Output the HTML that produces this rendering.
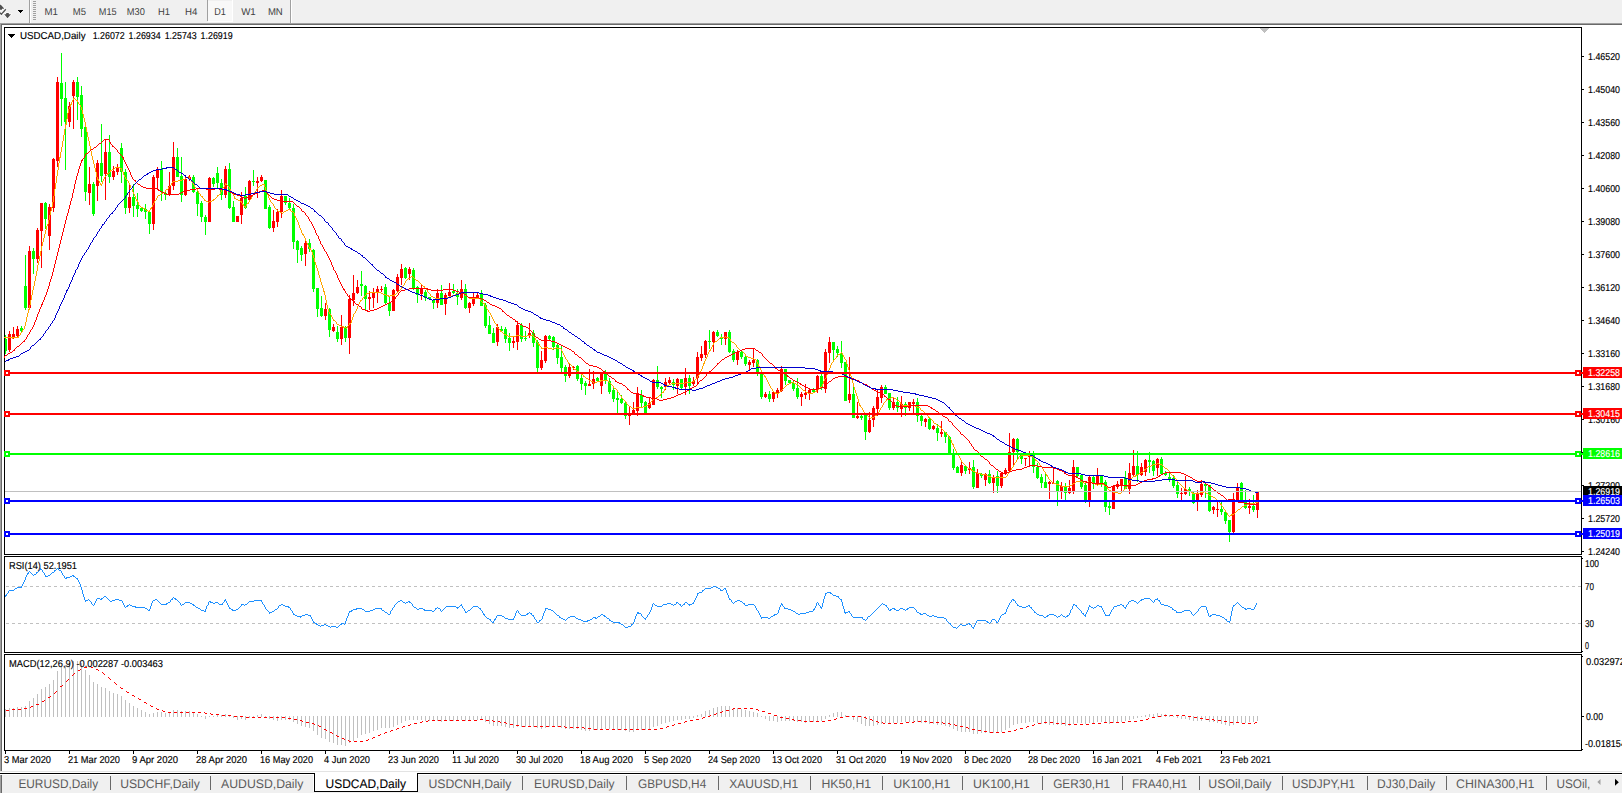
<!DOCTYPE html>
<html><head><meta charset="utf-8"><title>USDCAD,Daily</title>
<style>html,body{margin:0;padding:0;background:#fff;overflow:hidden}svg{display:block}text{font-family:"Liberation Sans",sans-serif;white-space:pre}</style>
</head><body>
<svg width="1622" height="794" viewBox="0 0 1622 794" shape-rendering="crispEdges" text-rendering="geometricPrecision">
<rect x="0" y="0" width="1622" height="794" fill="#ffffff"/>
<rect x="0" y="0" width="1622" height="23" fill="#f0f0f0"/>
<rect x="0" y="23" width="1622" height="1" fill="#a0a0a0"/>
<rect x="0" y="24" width="1622" height="1" fill="#696969"/>
<rect x="0" y="23" width="1" height="749" fill="#a0a0a0"/>
<rect x="1" y="24" width="1" height="748" fill="#696969"/>
<g shape-rendering="geometricPrecision">
<path d="M0 4.8 L0.8 4.8 L4 8.2 L4 8.8 L2 8.8 L2 9.8 L0 9.8 Z" fill="#505050" stroke="#ffffff" stroke-opacity="0.7" stroke-width="1.6" paint-order="stroke"/>
<path d="M5.8 9.3 L1.4 14.3 L0 12.8" fill="none" stroke="#ffffff" stroke-opacity="0.7" stroke-width="3"/>
<path d="M5.8 9.3 L1.4 14.3 L0 12.8" fill="none" stroke="#505050" stroke-width="1.3"/>
<path d="M6.2 13 L8.8 13 L8.8 14.2 L11 14.2 L7.5 18.2 L4.2 14.2 L6.2 14.2 Z" fill="#505050" stroke="#ffffff" stroke-opacity="0.7" stroke-width="1.6" paint-order="stroke"/>
</g>
<rect x="18" y="10" width="5" height="1" fill="#000"/>
<rect x="19" y="11" width="3" height="1" fill="#000"/>
<rect x="20" y="12" width="1" height="1" fill="#000"/>
<rect x="29" y="0" width="1" height="23" fill="#a0a0a0"/>
<rect x="30" y="0" width="1" height="23" fill="#ffffff"/>
<rect x="33" y="1" width="3" height="1" fill="#a0a0a0"/>
<rect x="33" y="3" width="3" height="1" fill="#a0a0a0"/>
<rect x="33" y="5" width="3" height="1" fill="#a0a0a0"/>
<rect x="33" y="7" width="3" height="1" fill="#a0a0a0"/>
<rect x="33" y="9" width="3" height="1" fill="#a0a0a0"/>
<rect x="33" y="11" width="3" height="1" fill="#a0a0a0"/>
<rect x="33" y="13" width="3" height="1" fill="#a0a0a0"/>
<rect x="33" y="15" width="3" height="1" fill="#a0a0a0"/>
<rect x="33" y="17" width="3" height="1" fill="#a0a0a0"/>
<rect x="33" y="19" width="3" height="1" fill="#a0a0a0"/>
<rect x="207" y="0" width="1" height="21" fill="#a0a0a0"/>
<rect x="208" y="1" width="24" height="20" fill="#f8f8f8"/>
<rect x="208" y="21" width="25" height="1" fill="#ffffff"/>
<rect x="232" y="0" width="1" height="22" fill="#ffffff"/>
<rect x="290" y="0" width="1" height="23" fill="#a0a0a0"/>
<rect x="291" y="0" width="1" height="23" fill="#ffffff"/>
<text x="44.6" y="15" font-size="10" fill="#404040" stroke="#404040" stroke-width="0" textLength="13.4" lengthAdjust="spacingAndGlyphs">M1</text>
<text x="72.8" y="15" font-size="10" fill="#404040" stroke="#404040" stroke-width="0" textLength="13.2" lengthAdjust="spacingAndGlyphs">M5</text>
<text x="98.8" y="15" font-size="10" fill="#404040" stroke="#404040" stroke-width="0" textLength="17.8" lengthAdjust="spacingAndGlyphs">M15</text>
<text x="126.8" y="15" font-size="10" fill="#404040" stroke="#404040" stroke-width="0" textLength="18.0" lengthAdjust="spacingAndGlyphs">M30</text>
<text x="158.0" y="15" font-size="10" fill="#404040" stroke="#404040" stroke-width="0" textLength="12.0" lengthAdjust="spacingAndGlyphs">H1</text>
<text x="185.0" y="15" font-size="10" fill="#404040" stroke="#404040" stroke-width="0" textLength="12.4" lengthAdjust="spacingAndGlyphs">H4</text>
<text x="214.2" y="15" font-size="10" fill="#404040" stroke="#404040" stroke-width="0" textLength="11.6" lengthAdjust="spacingAndGlyphs">D1</text>
<text x="241.2" y="15" font-size="10" fill="#404040" stroke="#404040" stroke-width="0" textLength="14.6" lengthAdjust="spacingAndGlyphs">W1</text>
<text x="267.9" y="15" font-size="10" fill="#404040" stroke="#404040" stroke-width="0" textLength="14.9" lengthAdjust="spacingAndGlyphs">MN</text>
<rect x="4" y="27" width="1" height="528" fill="#000000"/>
<rect x="4" y="556" width="1" height="97" fill="#000000"/>
<rect x="4" y="654" width="1" height="97" fill="#000000"/>
<rect x="1581" y="27" width="1" height="528" fill="#000000"/>
<rect x="1581" y="556" width="1" height="97" fill="#000000"/>
<rect x="1581" y="654" width="1" height="97" fill="#000000"/>
<rect x="4" y="27" width="1578" height="1" fill="#000000"/>
<rect x="4" y="554" width="1578" height="1" fill="#000000"/>
<rect x="4" y="556" width="1578" height="1" fill="#000000"/>
<rect x="4" y="652" width="1578" height="1" fill="#000000"/>
<rect x="4" y="654" width="1578" height="1" fill="#000000"/>
<rect x="4" y="750" width="1578" height="1" fill="#000000"/>
<rect x="1260" y="28" width="9" height="1" fill="#c0c0c0"/>
<rect x="1261" y="29" width="7" height="1" fill="#c0c0c0"/>
<rect x="1262" y="30" width="5" height="1" fill="#c0c0c0"/>
<rect x="1263" y="31" width="3" height="1" fill="#c0c0c0"/>
<rect x="1264" y="32" width="1" height="1" fill="#c0c0c0"/>
<rect x="8" y="34" width="7" height="1" fill="#000000"/>
<rect x="9" y="35" width="5" height="1" fill="#000000"/>
<rect x="10" y="36" width="3" height="1" fill="#000000"/>
<rect x="11" y="37" width="1" height="1" fill="#000000"/>
<text x="20" y="39" font-size="10" fill="#000000" stroke="#000000" stroke-width="0.15" textLength="65.5" lengthAdjust="spacingAndGlyphs">USDCAD,Daily</text>
<text x="92.7" y="39" font-size="10" fill="#000000" stroke="#000000" stroke-width="0.15" textLength="32" lengthAdjust="spacingAndGlyphs">1.26072</text>
<text x="128.6" y="39" font-size="10" fill="#000000" stroke="#000000" stroke-width="0.15" textLength="32" lengthAdjust="spacingAndGlyphs">1.26934</text>
<text x="164.7" y="39" font-size="10" fill="#000000" stroke="#000000" stroke-width="0.15" textLength="32" lengthAdjust="spacingAndGlyphs">1.25743</text>
<text x="200.6" y="39" font-size="10" fill="#000000" stroke="#000000" stroke-width="0.15" textLength="32" lengthAdjust="spacingAndGlyphs">1.26919</text>
<rect x="1582" y="56" width="2" height="1" fill="#000000"/>
<text x="1588" y="60" font-size="10" fill="#000000" stroke="#000000" stroke-width="0.15" textLength="32" lengthAdjust="spacingAndGlyphs">1.46520</text>
<rect x="1582" y="89" width="2" height="1" fill="#000000"/>
<text x="1588" y="93" font-size="10" fill="#000000" stroke="#000000" stroke-width="0.15" textLength="32" lengthAdjust="spacingAndGlyphs">1.45040</text>
<rect x="1582" y="122" width="2" height="1" fill="#000000"/>
<text x="1588" y="126" font-size="10" fill="#000000" stroke="#000000" stroke-width="0.15" textLength="32" lengthAdjust="spacingAndGlyphs">1.43560</text>
<rect x="1582" y="155" width="2" height="1" fill="#000000"/>
<text x="1588" y="159" font-size="10" fill="#000000" stroke="#000000" stroke-width="0.15" textLength="32" lengthAdjust="spacingAndGlyphs">1.42080</text>
<rect x="1582" y="188" width="2" height="1" fill="#000000"/>
<text x="1588" y="192" font-size="10" fill="#000000" stroke="#000000" stroke-width="0.15" textLength="32" lengthAdjust="spacingAndGlyphs">1.40600</text>
<rect x="1582" y="221" width="2" height="1" fill="#000000"/>
<text x="1588" y="225" font-size="10" fill="#000000" stroke="#000000" stroke-width="0.15" textLength="32" lengthAdjust="spacingAndGlyphs">1.39080</text>
<rect x="1582" y="254" width="2" height="1" fill="#000000"/>
<text x="1588" y="258" font-size="10" fill="#000000" stroke="#000000" stroke-width="0.15" textLength="32" lengthAdjust="spacingAndGlyphs">1.37600</text>
<rect x="1582" y="287" width="2" height="1" fill="#000000"/>
<text x="1588" y="291" font-size="10" fill="#000000" stroke="#000000" stroke-width="0.15" textLength="32" lengthAdjust="spacingAndGlyphs">1.36120</text>
<rect x="1582" y="320" width="2" height="1" fill="#000000"/>
<text x="1588" y="324" font-size="10" fill="#000000" stroke="#000000" stroke-width="0.15" textLength="32" lengthAdjust="spacingAndGlyphs">1.34640</text>
<rect x="1582" y="353" width="2" height="1" fill="#000000"/>
<text x="1588" y="357" font-size="10" fill="#000000" stroke="#000000" stroke-width="0.15" textLength="32" lengthAdjust="spacingAndGlyphs">1.33160</text>
<rect x="1582" y="386" width="2" height="1" fill="#000000"/>
<text x="1588" y="390" font-size="10" fill="#000000" stroke="#000000" stroke-width="0.15" textLength="32" lengthAdjust="spacingAndGlyphs">1.31680</text>
<rect x="1582" y="419" width="2" height="1" fill="#000000"/>
<text x="1588" y="423" font-size="10" fill="#000000" stroke="#000000" stroke-width="0.15" textLength="32" lengthAdjust="spacingAndGlyphs">1.30160</text>
<rect x="1582" y="452" width="2" height="1" fill="#000000"/>
<text x="1588" y="456" font-size="10" fill="#000000" stroke="#000000" stroke-width="0.15" textLength="32" lengthAdjust="spacingAndGlyphs">1.28680</text>
<rect x="1582" y="485" width="2" height="1" fill="#000000"/>
<text x="1588" y="489" font-size="10" fill="#000000" stroke="#000000" stroke-width="0.15" textLength="32" lengthAdjust="spacingAndGlyphs">1.27200</text>
<rect x="1582" y="518" width="2" height="1" fill="#000000"/>
<text x="1588" y="522" font-size="10" fill="#000000" stroke="#000000" stroke-width="0.15" textLength="32" lengthAdjust="spacingAndGlyphs">1.25720</text>
<rect x="1582" y="551" width="2" height="1" fill="#000000"/>
<text x="1588" y="555" font-size="10" fill="#000000" stroke="#000000" stroke-width="0.15" textLength="32" lengthAdjust="spacingAndGlyphs">1.24240</text>
<g id="candles">
<rect x="5" y="335" width="1" height="19" fill="#00ff00"/>
<rect x="5" y="339" width="2" height="12" fill="#00ff00"/>
<rect x="9" y="331" width="1" height="21" fill="#ff0000"/>
<rect x="8" y="334" width="3" height="16" fill="#ff0000"/>
<rect x="13" y="327" width="1" height="12" fill="#ff0000"/>
<rect x="12" y="334" width="3" height="3" fill="#ff0000"/>
<rect x="17" y="326" width="1" height="12" fill="#ff0000"/>
<rect x="16" y="329" width="3" height="7" fill="#ff0000"/>
<rect x="21" y="326" width="1" height="7" fill="#00ff00"/>
<rect x="20" y="328" width="3" height="3" fill="#00ff00"/>
<rect x="25" y="255" width="1" height="55" fill="#00ff00"/>
<rect x="24" y="286" width="3" height="22" fill="#00ff00"/>
<rect x="29" y="246" width="1" height="63" fill="#ff0000"/>
<rect x="28" y="251" width="3" height="57" fill="#ff0000"/>
<rect x="33" y="248" width="1" height="26" fill="#00ff00"/>
<rect x="32" y="251" width="3" height="8" fill="#00ff00"/>
<rect x="37" y="228" width="1" height="35" fill="#ff0000"/>
<rect x="36" y="230" width="3" height="29" fill="#ff0000"/>
<rect x="41" y="203" width="1" height="65" fill="#ff0000"/>
<rect x="40" y="203" width="3" height="28" fill="#ff0000"/>
<rect x="45" y="202" width="1" height="27" fill="#00ff00"/>
<rect x="44" y="203" width="3" height="16" fill="#00ff00"/>
<rect x="49" y="204" width="1" height="46" fill="#ff0000"/>
<rect x="48" y="207" width="3" height="29" fill="#ff0000"/>
<rect x="53" y="158" width="1" height="54" fill="#ff0000"/>
<rect x="52" y="159" width="3" height="49" fill="#ff0000"/>
<rect x="57" y="77" width="1" height="90" fill="#ff0000"/>
<rect x="56" y="82" width="3" height="79" fill="#ff0000"/>
<rect x="61" y="53" width="1" height="73" fill="#00ff00"/>
<rect x="60" y="83" width="3" height="16" fill="#00ff00"/>
<rect x="65" y="82" width="1" height="88" fill="#00ff00"/>
<rect x="64" y="98" width="3" height="24" fill="#00ff00"/>
<rect x="69" y="102" width="1" height="25" fill="#ff0000"/>
<rect x="68" y="106" width="3" height="16" fill="#ff0000"/>
<rect x="73" y="80" width="1" height="49" fill="#ff0000"/>
<rect x="72" y="82" width="3" height="14" fill="#ff0000"/>
<rect x="77" y="77" width="1" height="43" fill="#00ff00"/>
<rect x="76" y="82" width="3" height="15" fill="#00ff00"/>
<rect x="81" y="86" width="1" height="51" fill="#00ff00"/>
<rect x="80" y="95" width="3" height="34" fill="#00ff00"/>
<rect x="85" y="127" width="1" height="74" fill="#00ff00"/>
<rect x="84" y="127" width="3" height="65" fill="#00ff00"/>
<rect x="89" y="167" width="1" height="38" fill="#ff0000"/>
<rect x="88" y="184" width="3" height="9" fill="#ff0000"/>
<rect x="93" y="182" width="1" height="34" fill="#00ff00"/>
<rect x="92" y="184" width="3" height="30" fill="#00ff00"/>
<rect x="97" y="160" width="1" height="41" fill="#ff0000"/>
<rect x="96" y="163" width="3" height="23" fill="#ff0000"/>
<rect x="101" y="124" width="1" height="58" fill="#00ff00"/>
<rect x="100" y="163" width="3" height="13" fill="#00ff00"/>
<rect x="105" y="140" width="1" height="60" fill="#ff0000"/>
<rect x="104" y="152" width="3" height="22" fill="#ff0000"/>
<rect x="109" y="135" width="1" height="48" fill="#00ff00"/>
<rect x="108" y="152" width="3" height="25" fill="#00ff00"/>
<rect x="113" y="166" width="1" height="14" fill="#ff0000"/>
<rect x="112" y="171" width="3" height="6" fill="#ff0000"/>
<rect x="117" y="164" width="1" height="11" fill="#ff0000"/>
<rect x="116" y="167" width="3" height="5" fill="#ff0000"/>
<rect x="121" y="143" width="1" height="40" fill="#00ff00"/>
<rect x="120" y="148" width="3" height="24" fill="#00ff00"/>
<rect x="125" y="169" width="1" height="45" fill="#00ff00"/>
<rect x="124" y="172" width="3" height="36" fill="#00ff00"/>
<rect x="129" y="183" width="1" height="30" fill="#ff0000"/>
<rect x="128" y="197" width="3" height="11" fill="#ff0000"/>
<rect x="133" y="184" width="1" height="33" fill="#00ff00"/>
<rect x="132" y="197" width="3" height="9" fill="#00ff00"/>
<rect x="137" y="193" width="1" height="24" fill="#00ff00"/>
<rect x="136" y="205" width="3" height="4" fill="#00ff00"/>
<rect x="141" y="207" width="1" height="5" fill="#00ff00"/>
<rect x="140" y="208" width="3" height="3" fill="#00ff00"/>
<rect x="145" y="204" width="1" height="15" fill="#00ff00"/>
<rect x="144" y="209" width="3" height="3" fill="#00ff00"/>
<rect x="149" y="211" width="1" height="23" fill="#00ff00"/>
<rect x="148" y="212" width="3" height="12" fill="#00ff00"/>
<rect x="153" y="175" width="1" height="55" fill="#ff0000"/>
<rect x="152" y="177" width="3" height="47" fill="#ff0000"/>
<rect x="157" y="167" width="1" height="22" fill="#ff0000"/>
<rect x="156" y="170" width="3" height="8" fill="#ff0000"/>
<rect x="161" y="161" width="1" height="40" fill="#00ff00"/>
<rect x="160" y="169" width="3" height="23" fill="#00ff00"/>
<rect x="165" y="192" width="1" height="8" fill="#00ff00"/>
<rect x="164" y="193" width="3" height="2" fill="#00ff00"/>
<rect x="169" y="172" width="1" height="24" fill="#ff0000"/>
<rect x="168" y="186" width="3" height="9" fill="#ff0000"/>
<rect x="173" y="142" width="1" height="48" fill="#ff0000"/>
<rect x="172" y="157" width="3" height="29" fill="#ff0000"/>
<rect x="177" y="148" width="1" height="29" fill="#00ff00"/>
<rect x="176" y="157" width="3" height="20" fill="#00ff00"/>
<rect x="181" y="157" width="1" height="45" fill="#00ff00"/>
<rect x="180" y="176" width="3" height="19" fill="#00ff00"/>
<rect x="185" y="177" width="1" height="19" fill="#ff0000"/>
<rect x="184" y="179" width="3" height="16" fill="#ff0000"/>
<rect x="189" y="175" width="1" height="6" fill="#ff0000"/>
<rect x="188" y="177" width="3" height="2" fill="#ff0000"/>
<rect x="193" y="175" width="1" height="18" fill="#00ff00"/>
<rect x="192" y="177" width="3" height="15" fill="#00ff00"/>
<rect x="197" y="191" width="1" height="25" fill="#00ff00"/>
<rect x="196" y="192" width="3" height="12" fill="#00ff00"/>
<rect x="201" y="201" width="1" height="21" fill="#00ff00"/>
<rect x="200" y="203" width="3" height="14" fill="#00ff00"/>
<rect x="205" y="215" width="1" height="20" fill="#00ff00"/>
<rect x="204" y="217" width="3" height="5" fill="#00ff00"/>
<rect x="209" y="177" width="1" height="45" fill="#ff0000"/>
<rect x="208" y="178" width="3" height="44" fill="#ff0000"/>
<rect x="213" y="177" width="1" height="10" fill="#00ff00"/>
<rect x="212" y="178" width="3" height="6" fill="#00ff00"/>
<rect x="217" y="167" width="1" height="21" fill="#00ff00"/>
<rect x="216" y="173" width="3" height="10" fill="#00ff00"/>
<rect x="221" y="179" width="1" height="21" fill="#00ff00"/>
<rect x="220" y="183" width="3" height="12" fill="#00ff00"/>
<rect x="225" y="166" width="1" height="32" fill="#ff0000"/>
<rect x="224" y="169" width="3" height="26" fill="#ff0000"/>
<rect x="229" y="163" width="1" height="46" fill="#00ff00"/>
<rect x="228" y="169" width="3" height="39" fill="#00ff00"/>
<rect x="233" y="201" width="1" height="21" fill="#00ff00"/>
<rect x="232" y="207" width="3" height="15" fill="#00ff00"/>
<rect x="237" y="216" width="1" height="6" fill="#ff0000"/>
<rect x="236" y="216" width="3" height="6" fill="#ff0000"/>
<rect x="241" y="192" width="1" height="32" fill="#ff0000"/>
<rect x="240" y="198" width="3" height="17" fill="#ff0000"/>
<rect x="245" y="187" width="1" height="22" fill="#00ff00"/>
<rect x="244" y="196" width="3" height="12" fill="#00ff00"/>
<rect x="249" y="180" width="1" height="21" fill="#ff0000"/>
<rect x="248" y="181" width="3" height="19" fill="#ff0000"/>
<rect x="253" y="170" width="1" height="16" fill="#00ff00"/>
<rect x="252" y="181" width="3" height="1" fill="#00ff00"/>
<rect x="257" y="177" width="1" height="21" fill="#ff0000"/>
<rect x="256" y="181" width="3" height="2" fill="#ff0000"/>
<rect x="261" y="175" width="1" height="7" fill="#ff0000"/>
<rect x="260" y="177" width="3" height="4" fill="#ff0000"/>
<rect x="265" y="180" width="1" height="29" fill="#00ff00"/>
<rect x="264" y="180" width="3" height="29" fill="#00ff00"/>
<rect x="269" y="205" width="1" height="24" fill="#00ff00"/>
<rect x="268" y="207" width="3" height="21" fill="#00ff00"/>
<rect x="273" y="210" width="1" height="22" fill="#ff0000"/>
<rect x="272" y="221" width="3" height="7" fill="#ff0000"/>
<rect x="277" y="209" width="1" height="18" fill="#ff0000"/>
<rect x="276" y="212" width="3" height="10" fill="#ff0000"/>
<rect x="281" y="190" width="1" height="28" fill="#ff0000"/>
<rect x="280" y="196" width="3" height="16" fill="#ff0000"/>
<rect x="285" y="196" width="1" height="9" fill="#00ff00"/>
<rect x="284" y="196" width="3" height="7" fill="#00ff00"/>
<rect x="289" y="198" width="1" height="12" fill="#00ff00"/>
<rect x="288" y="203" width="3" height="5" fill="#00ff00"/>
<rect x="293" y="204" width="1" height="45" fill="#00ff00"/>
<rect x="292" y="208" width="3" height="34" fill="#00ff00"/>
<rect x="297" y="240" width="1" height="23" fill="#00ff00"/>
<rect x="296" y="241" width="3" height="9" fill="#00ff00"/>
<rect x="301" y="246" width="1" height="15" fill="#00ff00"/>
<rect x="300" y="248" width="3" height="7" fill="#00ff00"/>
<rect x="305" y="240" width="1" height="26" fill="#ff0000"/>
<rect x="304" y="243" width="3" height="11" fill="#ff0000"/>
<rect x="309" y="239" width="1" height="13" fill="#00ff00"/>
<rect x="308" y="243" width="3" height="6" fill="#00ff00"/>
<rect x="313" y="249" width="1" height="43" fill="#00ff00"/>
<rect x="312" y="250" width="3" height="39" fill="#00ff00"/>
<rect x="317" y="288" width="1" height="29" fill="#00ff00"/>
<rect x="316" y="288" width="3" height="21" fill="#00ff00"/>
<rect x="321" y="296" width="1" height="21" fill="#00ff00"/>
<rect x="320" y="308" width="3" height="8" fill="#00ff00"/>
<rect x="325" y="303" width="1" height="17" fill="#ff0000"/>
<rect x="324" y="309" width="3" height="7" fill="#ff0000"/>
<rect x="329" y="308" width="1" height="29" fill="#00ff00"/>
<rect x="328" y="309" width="3" height="21" fill="#00ff00"/>
<rect x="333" y="324" width="1" height="8" fill="#ff0000"/>
<rect x="332" y="327" width="3" height="4" fill="#ff0000"/>
<rect x="337" y="326" width="1" height="16" fill="#00ff00"/>
<rect x="336" y="332" width="3" height="7" fill="#00ff00"/>
<rect x="341" y="315" width="1" height="30" fill="#ff0000"/>
<rect x="340" y="327" width="3" height="12" fill="#ff0000"/>
<rect x="345" y="326" width="1" height="16" fill="#00ff00"/>
<rect x="344" y="327" width="3" height="11" fill="#00ff00"/>
<rect x="349" y="295" width="1" height="59" fill="#ff0000"/>
<rect x="348" y="299" width="3" height="39" fill="#ff0000"/>
<rect x="353" y="275" width="1" height="31" fill="#ff0000"/>
<rect x="352" y="293" width="3" height="7" fill="#ff0000"/>
<rect x="357" y="280" width="1" height="14" fill="#ff0000"/>
<rect x="356" y="287" width="3" height="6" fill="#ff0000"/>
<rect x="361" y="271" width="1" height="25" fill="#00ff00"/>
<rect x="360" y="284" width="3" height="2" fill="#00ff00"/>
<rect x="365" y="285" width="1" height="26" fill="#00ff00"/>
<rect x="364" y="286" width="3" height="13" fill="#00ff00"/>
<rect x="369" y="291" width="1" height="19" fill="#ff0000"/>
<rect x="368" y="297" width="3" height="2" fill="#ff0000"/>
<rect x="373" y="288" width="1" height="20" fill="#ff0000"/>
<rect x="372" y="292" width="3" height="6" fill="#ff0000"/>
<rect x="377" y="286" width="1" height="17" fill="#ff0000"/>
<rect x="376" y="289" width="3" height="3" fill="#ff0000"/>
<rect x="381" y="286" width="1" height="6" fill="#ff0000"/>
<rect x="380" y="289" width="3" height="1" fill="#ff0000"/>
<rect x="385" y="284" width="1" height="21" fill="#00ff00"/>
<rect x="384" y="287" width="3" height="16" fill="#00ff00"/>
<rect x="389" y="296" width="1" height="20" fill="#00ff00"/>
<rect x="388" y="303" width="3" height="8" fill="#00ff00"/>
<rect x="393" y="289" width="1" height="22" fill="#ff0000"/>
<rect x="392" y="290" width="3" height="21" fill="#ff0000"/>
<rect x="397" y="274" width="1" height="18" fill="#ff0000"/>
<rect x="396" y="277" width="3" height="14" fill="#ff0000"/>
<rect x="401" y="264" width="1" height="21" fill="#ff0000"/>
<rect x="400" y="269" width="3" height="9" fill="#ff0000"/>
<rect x="405" y="267" width="1" height="12" fill="#00ff00"/>
<rect x="404" y="268" width="3" height="10" fill="#00ff00"/>
<rect x="409" y="267" width="1" height="13" fill="#ff0000"/>
<rect x="408" y="269" width="3" height="5" fill="#ff0000"/>
<rect x="413" y="268" width="1" height="22" fill="#00ff00"/>
<rect x="412" y="270" width="3" height="19" fill="#00ff00"/>
<rect x="417" y="286" width="1" height="17" fill="#00ff00"/>
<rect x="416" y="287" width="3" height="8" fill="#00ff00"/>
<rect x="421" y="285" width="1" height="15" fill="#ff0000"/>
<rect x="420" y="289" width="3" height="5" fill="#ff0000"/>
<rect x="425" y="290" width="1" height="11" fill="#00ff00"/>
<rect x="424" y="292" width="3" height="6" fill="#00ff00"/>
<rect x="429" y="297" width="1" height="3" fill="#00ff00"/>
<rect x="428" y="297" width="3" height="2" fill="#00ff00"/>
<rect x="433" y="299" width="1" height="10" fill="#00ff00"/>
<rect x="432" y="300" width="3" height="3" fill="#00ff00"/>
<rect x="437" y="289" width="1" height="19" fill="#ff0000"/>
<rect x="436" y="293" width="3" height="10" fill="#ff0000"/>
<rect x="441" y="285" width="1" height="20" fill="#00ff00"/>
<rect x="440" y="293" width="3" height="12" fill="#00ff00"/>
<rect x="445" y="293" width="1" height="22" fill="#ff0000"/>
<rect x="444" y="295" width="3" height="9" fill="#ff0000"/>
<rect x="449" y="283" width="1" height="15" fill="#ff0000"/>
<rect x="448" y="292" width="3" height="4" fill="#ff0000"/>
<rect x="453" y="284" width="1" height="10" fill="#00ff00"/>
<rect x="452" y="291" width="3" height="2" fill="#00ff00"/>
<rect x="457" y="289" width="1" height="16" fill="#00ff00"/>
<rect x="456" y="293" width="3" height="4" fill="#00ff00"/>
<rect x="461" y="280" width="1" height="20" fill="#ff0000"/>
<rect x="460" y="289" width="3" height="9" fill="#ff0000"/>
<rect x="465" y="284" width="1" height="25" fill="#00ff00"/>
<rect x="464" y="289" width="3" height="19" fill="#00ff00"/>
<rect x="469" y="302" width="1" height="11" fill="#ff0000"/>
<rect x="468" y="303" width="3" height="5" fill="#ff0000"/>
<rect x="473" y="293" width="1" height="13" fill="#ff0000"/>
<rect x="472" y="297" width="3" height="7" fill="#ff0000"/>
<rect x="477" y="293" width="1" height="6" fill="#ff0000"/>
<rect x="476" y="295" width="3" height="3" fill="#ff0000"/>
<rect x="481" y="290" width="1" height="16" fill="#00ff00"/>
<rect x="480" y="294" width="3" height="12" fill="#00ff00"/>
<rect x="485" y="303" width="1" height="25" fill="#00ff00"/>
<rect x="484" y="305" width="3" height="21" fill="#00ff00"/>
<rect x="489" y="316" width="1" height="18" fill="#00ff00"/>
<rect x="488" y="325" width="3" height="9" fill="#00ff00"/>
<rect x="493" y="328" width="1" height="15" fill="#00ff00"/>
<rect x="492" y="333" width="3" height="10" fill="#00ff00"/>
<rect x="497" y="324" width="1" height="22" fill="#ff0000"/>
<rect x="496" y="327" width="3" height="15" fill="#ff0000"/>
<rect x="501" y="326" width="1" height="5" fill="#00ff00"/>
<rect x="500" y="329" width="3" height="2" fill="#00ff00"/>
<rect x="505" y="327" width="1" height="16" fill="#00ff00"/>
<rect x="504" y="329" width="3" height="10" fill="#00ff00"/>
<rect x="509" y="333" width="1" height="18" fill="#00ff00"/>
<rect x="508" y="338" width="3" height="5" fill="#00ff00"/>
<rect x="513" y="337" width="1" height="11" fill="#ff0000"/>
<rect x="512" y="341" width="3" height="2" fill="#ff0000"/>
<rect x="517" y="321" width="1" height="29" fill="#ff0000"/>
<rect x="516" y="325" width="3" height="17" fill="#ff0000"/>
<rect x="521" y="323" width="1" height="19" fill="#00ff00"/>
<rect x="520" y="325" width="3" height="14" fill="#00ff00"/>
<rect x="525" y="331" width="1" height="10" fill="#00ff00"/>
<rect x="524" y="338" width="3" height="1" fill="#00ff00"/>
<rect x="529" y="323" width="1" height="15" fill="#ff0000"/>
<rect x="528" y="333" width="3" height="3" fill="#ff0000"/>
<rect x="533" y="330" width="1" height="17" fill="#00ff00"/>
<rect x="532" y="333" width="3" height="10" fill="#00ff00"/>
<rect x="537" y="340" width="1" height="32" fill="#00ff00"/>
<rect x="536" y="342" width="3" height="26" fill="#00ff00"/>
<rect x="541" y="351" width="1" height="19" fill="#ff0000"/>
<rect x="540" y="360" width="3" height="8" fill="#ff0000"/>
<rect x="545" y="335" width="1" height="28" fill="#ff0000"/>
<rect x="544" y="336" width="3" height="25" fill="#ff0000"/>
<rect x="549" y="335" width="1" height="5" fill="#00ff00"/>
<rect x="548" y="336" width="3" height="3" fill="#00ff00"/>
<rect x="553" y="336" width="1" height="14" fill="#00ff00"/>
<rect x="552" y="337" width="3" height="10" fill="#00ff00"/>
<rect x="557" y="344" width="1" height="20" fill="#00ff00"/>
<rect x="556" y="345" width="3" height="13" fill="#00ff00"/>
<rect x="561" y="346" width="1" height="26" fill="#00ff00"/>
<rect x="560" y="357" width="3" height="11" fill="#00ff00"/>
<rect x="565" y="365" width="1" height="17" fill="#00ff00"/>
<rect x="564" y="367" width="3" height="9" fill="#00ff00"/>
<rect x="569" y="364" width="1" height="14" fill="#ff0000"/>
<rect x="568" y="367" width="3" height="9" fill="#ff0000"/>
<rect x="573" y="366" width="1" height="4" fill="#ff0000"/>
<rect x="572" y="367" width="3" height="1" fill="#ff0000"/>
<rect x="577" y="365" width="1" height="16" fill="#00ff00"/>
<rect x="576" y="366" width="3" height="13" fill="#00ff00"/>
<rect x="581" y="374" width="1" height="16" fill="#00ff00"/>
<rect x="580" y="378" width="3" height="6" fill="#00ff00"/>
<rect x="585" y="381" width="1" height="14" fill="#00ff00"/>
<rect x="584" y="383" width="3" height="3" fill="#00ff00"/>
<rect x="589" y="369" width="1" height="17" fill="#ff0000"/>
<rect x="588" y="384" width="3" height="2" fill="#ff0000"/>
<rect x="593" y="371" width="1" height="18" fill="#ff0000"/>
<rect x="592" y="379" width="3" height="5" fill="#ff0000"/>
<rect x="597" y="377" width="1" height="5" fill="#00ff00"/>
<rect x="596" y="378" width="3" height="3" fill="#00ff00"/>
<rect x="601" y="372" width="1" height="22" fill="#ff0000"/>
<rect x="600" y="373" width="3" height="13" fill="#ff0000"/>
<rect x="605" y="370" width="1" height="14" fill="#00ff00"/>
<rect x="604" y="374" width="3" height="7" fill="#00ff00"/>
<rect x="609" y="378" width="1" height="16" fill="#00ff00"/>
<rect x="608" y="381" width="3" height="11" fill="#00ff00"/>
<rect x="613" y="386" width="1" height="16" fill="#00ff00"/>
<rect x="612" y="390" width="3" height="9" fill="#00ff00"/>
<rect x="617" y="392" width="1" height="21" fill="#00ff00"/>
<rect x="616" y="398" width="3" height="2" fill="#00ff00"/>
<rect x="621" y="395" width="1" height="9" fill="#00ff00"/>
<rect x="620" y="399" width="3" height="4" fill="#00ff00"/>
<rect x="625" y="402" width="1" height="17" fill="#00ff00"/>
<rect x="624" y="403" width="3" height="13" fill="#00ff00"/>
<rect x="629" y="407" width="1" height="18" fill="#ff0000"/>
<rect x="628" y="415" width="3" height="1" fill="#ff0000"/>
<rect x="633" y="402" width="1" height="12" fill="#ff0000"/>
<rect x="632" y="410" width="3" height="3" fill="#ff0000"/>
<rect x="637" y="387" width="1" height="29" fill="#ff0000"/>
<rect x="636" y="394" width="3" height="17" fill="#ff0000"/>
<rect x="641" y="390" width="1" height="17" fill="#00ff00"/>
<rect x="640" y="395" width="3" height="8" fill="#00ff00"/>
<rect x="645" y="401" width="1" height="12" fill="#00ff00"/>
<rect x="644" y="402" width="3" height="11" fill="#00ff00"/>
<rect x="649" y="397" width="1" height="12" fill="#ff0000"/>
<rect x="648" y="403" width="3" height="5" fill="#ff0000"/>
<rect x="653" y="379" width="1" height="26" fill="#ff0000"/>
<rect x="652" y="380" width="3" height="25" fill="#ff0000"/>
<rect x="657" y="366" width="1" height="23" fill="#00ff00"/>
<rect x="656" y="380" width="3" height="7" fill="#00ff00"/>
<rect x="661" y="386" width="1" height="12" fill="#00ff00"/>
<rect x="660" y="387" width="3" height="2" fill="#00ff00"/>
<rect x="665" y="378" width="1" height="12" fill="#ff0000"/>
<rect x="664" y="382" width="3" height="5" fill="#ff0000"/>
<rect x="669" y="377" width="1" height="7" fill="#ff0000"/>
<rect x="668" y="380" width="3" height="3" fill="#ff0000"/>
<rect x="673" y="379" width="1" height="11" fill="#00ff00"/>
<rect x="672" y="382" width="3" height="3" fill="#00ff00"/>
<rect x="677" y="378" width="1" height="16" fill="#ff0000"/>
<rect x="676" y="379" width="3" height="7" fill="#ff0000"/>
<rect x="681" y="379" width="1" height="10" fill="#00ff00"/>
<rect x="680" y="379" width="3" height="9" fill="#00ff00"/>
<rect x="685" y="368" width="1" height="27" fill="#ff0000"/>
<rect x="684" y="378" width="3" height="9" fill="#ff0000"/>
<rect x="689" y="375" width="1" height="19" fill="#00ff00"/>
<rect x="688" y="378" width="3" height="8" fill="#00ff00"/>
<rect x="693" y="377" width="1" height="9" fill="#ff0000"/>
<rect x="692" y="381" width="3" height="3" fill="#ff0000"/>
<rect x="697" y="352" width="1" height="33" fill="#ff0000"/>
<rect x="696" y="357" width="3" height="21" fill="#ff0000"/>
<rect x="701" y="346" width="1" height="15" fill="#ff0000"/>
<rect x="700" y="354" width="3" height="4" fill="#ff0000"/>
<rect x="705" y="340" width="1" height="18" fill="#ff0000"/>
<rect x="704" y="341" width="3" height="14" fill="#ff0000"/>
<rect x="709" y="330" width="1" height="19" fill="#00ff00"/>
<rect x="708" y="341" width="3" height="1" fill="#00ff00"/>
<rect x="713" y="331" width="1" height="21" fill="#ff0000"/>
<rect x="712" y="332" width="3" height="10" fill="#ff0000"/>
<rect x="717" y="330" width="1" height="7" fill="#00ff00"/>
<rect x="716" y="332" width="3" height="4" fill="#00ff00"/>
<rect x="721" y="334" width="1" height="11" fill="#00ff00"/>
<rect x="720" y="338" width="3" height="1" fill="#00ff00"/>
<rect x="725" y="332" width="1" height="13" fill="#ff0000"/>
<rect x="724" y="332" width="3" height="7" fill="#ff0000"/>
<rect x="729" y="330" width="1" height="23" fill="#00ff00"/>
<rect x="728" y="332" width="3" height="20" fill="#00ff00"/>
<rect x="733" y="349" width="1" height="13" fill="#00ff00"/>
<rect x="732" y="351" width="3" height="9" fill="#00ff00"/>
<rect x="737" y="350" width="1" height="15" fill="#ff0000"/>
<rect x="736" y="352" width="3" height="8" fill="#ff0000"/>
<rect x="741" y="351" width="1" height="8" fill="#00ff00"/>
<rect x="740" y="352" width="3" height="5" fill="#00ff00"/>
<rect x="745" y="356" width="1" height="10" fill="#00ff00"/>
<rect x="744" y="357" width="3" height="7" fill="#00ff00"/>
<rect x="749" y="360" width="1" height="10" fill="#ff0000"/>
<rect x="748" y="362" width="3" height="3" fill="#ff0000"/>
<rect x="753" y="349" width="1" height="18" fill="#ff0000"/>
<rect x="752" y="360" width="3" height="3" fill="#ff0000"/>
<rect x="757" y="359" width="1" height="17" fill="#00ff00"/>
<rect x="756" y="360" width="3" height="14" fill="#00ff00"/>
<rect x="761" y="374" width="1" height="25" fill="#00ff00"/>
<rect x="760" y="374" width="3" height="23" fill="#00ff00"/>
<rect x="765" y="392" width="1" height="6" fill="#ff0000"/>
<rect x="764" y="394" width="3" height="3" fill="#ff0000"/>
<rect x="769" y="391" width="1" height="11" fill="#00ff00"/>
<rect x="768" y="394" width="3" height="5" fill="#00ff00"/>
<rect x="773" y="392" width="1" height="10" fill="#ff0000"/>
<rect x="772" y="392" width="3" height="7" fill="#ff0000"/>
<rect x="777" y="388" width="1" height="10" fill="#ff0000"/>
<rect x="776" y="390" width="3" height="4" fill="#ff0000"/>
<rect x="781" y="366" width="1" height="26" fill="#ff0000"/>
<rect x="780" y="369" width="3" height="22" fill="#ff0000"/>
<rect x="785" y="369" width="1" height="16" fill="#00ff00"/>
<rect x="784" y="369" width="3" height="12" fill="#00ff00"/>
<rect x="789" y="380" width="1" height="4" fill="#00ff00"/>
<rect x="788" y="380" width="3" height="3" fill="#00ff00"/>
<rect x="793" y="381" width="1" height="10" fill="#00ff00"/>
<rect x="792" y="383" width="3" height="6" fill="#00ff00"/>
<rect x="797" y="378" width="1" height="21" fill="#00ff00"/>
<rect x="796" y="388" width="3" height="9" fill="#00ff00"/>
<rect x="801" y="392" width="1" height="14" fill="#ff0000"/>
<rect x="800" y="394" width="3" height="3" fill="#ff0000"/>
<rect x="805" y="384" width="1" height="15" fill="#ff0000"/>
<rect x="804" y="393" width="3" height="2" fill="#ff0000"/>
<rect x="809" y="389" width="1" height="11" fill="#ff0000"/>
<rect x="808" y="390" width="3" height="4" fill="#ff0000"/>
<rect x="813" y="388" width="1" height="5" fill="#00ff00"/>
<rect x="812" y="389" width="3" height="3" fill="#00ff00"/>
<rect x="817" y="375" width="1" height="18" fill="#ff0000"/>
<rect x="816" y="376" width="3" height="13" fill="#ff0000"/>
<rect x="821" y="374" width="1" height="16" fill="#00ff00"/>
<rect x="820" y="376" width="3" height="12" fill="#00ff00"/>
<rect x="825" y="349" width="1" height="44" fill="#ff0000"/>
<rect x="824" y="352" width="3" height="37" fill="#ff0000"/>
<rect x="829" y="337" width="1" height="26" fill="#ff0000"/>
<rect x="828" y="342" width="3" height="11" fill="#ff0000"/>
<rect x="833" y="342" width="1" height="20" fill="#00ff00"/>
<rect x="832" y="342" width="3" height="8" fill="#00ff00"/>
<rect x="837" y="346" width="1" height="11" fill="#00ff00"/>
<rect x="836" y="349" width="3" height="4" fill="#00ff00"/>
<rect x="841" y="341" width="1" height="27" fill="#00ff00"/>
<rect x="840" y="353" width="3" height="10" fill="#00ff00"/>
<rect x="845" y="362" width="1" height="39" fill="#00ff00"/>
<rect x="844" y="362" width="3" height="39" fill="#00ff00"/>
<rect x="849" y="357" width="1" height="46" fill="#ff0000"/>
<rect x="848" y="394" width="3" height="6" fill="#ff0000"/>
<rect x="853" y="384" width="1" height="34" fill="#00ff00"/>
<rect x="852" y="394" width="3" height="24" fill="#00ff00"/>
<rect x="857" y="402" width="1" height="17" fill="#ff0000"/>
<rect x="856" y="416" width="3" height="2" fill="#ff0000"/>
<rect x="861" y="415" width="1" height="5" fill="#00ff00"/>
<rect x="860" y="416" width="3" height="2" fill="#00ff00"/>
<rect x="865" y="415" width="1" height="25" fill="#00ff00"/>
<rect x="864" y="415" width="3" height="17" fill="#00ff00"/>
<rect x="869" y="412" width="1" height="21" fill="#ff0000"/>
<rect x="868" y="420" width="3" height="12" fill="#ff0000"/>
<rect x="873" y="406" width="1" height="21" fill="#ff0000"/>
<rect x="872" y="408" width="3" height="12" fill="#ff0000"/>
<rect x="877" y="390" width="1" height="26" fill="#ff0000"/>
<rect x="876" y="397" width="3" height="12" fill="#ff0000"/>
<rect x="881" y="385" width="1" height="18" fill="#ff0000"/>
<rect x="880" y="387" width="3" height="11" fill="#ff0000"/>
<rect x="885" y="385" width="1" height="9" fill="#00ff00"/>
<rect x="884" y="387" width="3" height="7" fill="#00ff00"/>
<rect x="889" y="393" width="1" height="17" fill="#00ff00"/>
<rect x="888" y="393" width="3" height="15" fill="#00ff00"/>
<rect x="893" y="397" width="1" height="13" fill="#ff0000"/>
<rect x="892" y="402" width="3" height="6" fill="#ff0000"/>
<rect x="897" y="397" width="1" height="15" fill="#00ff00"/>
<rect x="896" y="402" width="3" height="6" fill="#00ff00"/>
<rect x="901" y="396" width="1" height="21" fill="#ff0000"/>
<rect x="900" y="404" width="3" height="5" fill="#ff0000"/>
<rect x="905" y="402" width="1" height="14" fill="#00ff00"/>
<rect x="904" y="404" width="3" height="4" fill="#00ff00"/>
<rect x="909" y="402" width="1" height="9" fill="#ff0000"/>
<rect x="908" y="402" width="3" height="6" fill="#ff0000"/>
<rect x="913" y="399" width="1" height="14" fill="#ff0000"/>
<rect x="912" y="402" width="3" height="2" fill="#ff0000"/>
<rect x="917" y="398" width="1" height="24" fill="#00ff00"/>
<rect x="916" y="402" width="3" height="14" fill="#00ff00"/>
<rect x="921" y="415" width="1" height="11" fill="#00ff00"/>
<rect x="920" y="416" width="3" height="5" fill="#00ff00"/>
<rect x="925" y="418" width="1" height="9" fill="#ff0000"/>
<rect x="924" y="419" width="3" height="3" fill="#ff0000"/>
<rect x="929" y="417" width="1" height="13" fill="#00ff00"/>
<rect x="928" y="419" width="3" height="10" fill="#00ff00"/>
<rect x="933" y="425" width="1" height="5" fill="#ff0000"/>
<rect x="932" y="426" width="3" height="3" fill="#ff0000"/>
<rect x="937" y="424" width="1" height="17" fill="#00ff00"/>
<rect x="936" y="428" width="3" height="5" fill="#00ff00"/>
<rect x="941" y="421" width="1" height="16" fill="#ff0000"/>
<rect x="940" y="432" width="3" height="2" fill="#ff0000"/>
<rect x="945" y="432" width="1" height="11" fill="#00ff00"/>
<rect x="944" y="432" width="3" height="5" fill="#00ff00"/>
<rect x="949" y="436" width="1" height="17" fill="#00ff00"/>
<rect x="948" y="437" width="3" height="16" fill="#00ff00"/>
<rect x="953" y="449" width="1" height="21" fill="#00ff00"/>
<rect x="952" y="453" width="3" height="15" fill="#00ff00"/>
<rect x="957" y="466" width="1" height="7" fill="#00ff00"/>
<rect x="956" y="467" width="3" height="6" fill="#00ff00"/>
<rect x="961" y="460" width="1" height="16" fill="#ff0000"/>
<rect x="960" y="465" width="3" height="8" fill="#ff0000"/>
<rect x="965" y="465" width="1" height="9" fill="#00ff00"/>
<rect x="964" y="466" width="3" height="5" fill="#00ff00"/>
<rect x="969" y="462" width="1" height="12" fill="#ff0000"/>
<rect x="968" y="468" width="3" height="2" fill="#ff0000"/>
<rect x="973" y="460" width="1" height="29" fill="#00ff00"/>
<rect x="972" y="467" width="3" height="20" fill="#00ff00"/>
<rect x="977" y="469" width="1" height="19" fill="#ff0000"/>
<rect x="976" y="473" width="3" height="15" fill="#ff0000"/>
<rect x="981" y="473" width="1" height="5" fill="#00ff00"/>
<rect x="980" y="474" width="3" height="2" fill="#00ff00"/>
<rect x="985" y="473" width="1" height="13" fill="#ff0000"/>
<rect x="984" y="474" width="3" height="6" fill="#ff0000"/>
<rect x="989" y="470" width="1" height="14" fill="#00ff00"/>
<rect x="988" y="474" width="3" height="9" fill="#00ff00"/>
<rect x="993" y="475" width="1" height="18" fill="#ff0000"/>
<rect x="992" y="477" width="3" height="6" fill="#ff0000"/>
<rect x="997" y="471" width="1" height="22" fill="#00ff00"/>
<rect x="996" y="476" width="3" height="10" fill="#00ff00"/>
<rect x="1001" y="472" width="1" height="16" fill="#ff0000"/>
<rect x="1000" y="473" width="3" height="13" fill="#ff0000"/>
<rect x="1005" y="468" width="1" height="7" fill="#ff0000"/>
<rect x="1004" y="470" width="3" height="4" fill="#ff0000"/>
<rect x="1009" y="433" width="1" height="38" fill="#ff0000"/>
<rect x="1008" y="452" width="3" height="19" fill="#ff0000"/>
<rect x="1013" y="438" width="1" height="27" fill="#ff0000"/>
<rect x="1012" y="439" width="3" height="13" fill="#ff0000"/>
<rect x="1017" y="438" width="1" height="21" fill="#00ff00"/>
<rect x="1016" y="439" width="3" height="13" fill="#00ff00"/>
<rect x="1021" y="455" width="1" height="9" fill="#00ff00"/>
<rect x="1020" y="455" width="3" height="4" fill="#00ff00"/>
<rect x="1025" y="458" width="1" height="8" fill="#ff0000"/>
<rect x="1024" y="458" width="3" height="1" fill="#ff0000"/>
<rect x="1029" y="451" width="1" height="16" fill="#ff0000"/>
<rect x="1028" y="455" width="3" height="2" fill="#ff0000"/>
<rect x="1033" y="451" width="1" height="22" fill="#00ff00"/>
<rect x="1032" y="455" width="3" height="12" fill="#00ff00"/>
<rect x="1037" y="463" width="1" height="16" fill="#00ff00"/>
<rect x="1036" y="467" width="3" height="11" fill="#00ff00"/>
<rect x="1041" y="474" width="1" height="14" fill="#00ff00"/>
<rect x="1040" y="477" width="3" height="6" fill="#00ff00"/>
<rect x="1045" y="474" width="1" height="14" fill="#00ff00"/>
<rect x="1044" y="482" width="3" height="6" fill="#00ff00"/>
<rect x="1049" y="481" width="1" height="18" fill="#ff0000"/>
<rect x="1048" y="482" width="3" height="2" fill="#ff0000"/>
<rect x="1053" y="467" width="1" height="17" fill="#ff0000"/>
<rect x="1052" y="483" width="3" height="1" fill="#ff0000"/>
<rect x="1057" y="480" width="1" height="26" fill="#00ff00"/>
<rect x="1056" y="481" width="3" height="10" fill="#00ff00"/>
<rect x="1061" y="482" width="1" height="17" fill="#ff0000"/>
<rect x="1060" y="486" width="3" height="6" fill="#ff0000"/>
<rect x="1065" y="483" width="1" height="17" fill="#00ff00"/>
<rect x="1064" y="486" width="3" height="7" fill="#00ff00"/>
<rect x="1069" y="480" width="1" height="14" fill="#ff0000"/>
<rect x="1068" y="488" width="3" height="5" fill="#ff0000"/>
<rect x="1073" y="460" width="1" height="34" fill="#ff0000"/>
<rect x="1072" y="467" width="3" height="25" fill="#ff0000"/>
<rect x="1077" y="467" width="1" height="10" fill="#00ff00"/>
<rect x="1076" y="467" width="3" height="9" fill="#00ff00"/>
<rect x="1081" y="475" width="1" height="14" fill="#00ff00"/>
<rect x="1080" y="475" width="3" height="12" fill="#00ff00"/>
<rect x="1085" y="481" width="1" height="22" fill="#00ff00"/>
<rect x="1084" y="485" width="3" height="15" fill="#00ff00"/>
<rect x="1089" y="476" width="1" height="31" fill="#ff0000"/>
<rect x="1088" y="477" width="3" height="23" fill="#ff0000"/>
<rect x="1093" y="476" width="1" height="13" fill="#00ff00"/>
<rect x="1092" y="477" width="3" height="6" fill="#00ff00"/>
<rect x="1097" y="468" width="1" height="18" fill="#ff0000"/>
<rect x="1096" y="476" width="3" height="9" fill="#ff0000"/>
<rect x="1101" y="475" width="1" height="12" fill="#00ff00"/>
<rect x="1100" y="476" width="3" height="7" fill="#00ff00"/>
<rect x="1105" y="480" width="1" height="32" fill="#00ff00"/>
<rect x="1104" y="482" width="3" height="25" fill="#00ff00"/>
<rect x="1109" y="502" width="1" height="13" fill="#00ff00"/>
<rect x="1108" y="506" width="3" height="2" fill="#00ff00"/>
<rect x="1113" y="485" width="1" height="24" fill="#ff0000"/>
<rect x="1112" y="486" width="3" height="23" fill="#ff0000"/>
<rect x="1117" y="481" width="1" height="8" fill="#ff0000"/>
<rect x="1116" y="484" width="3" height="3" fill="#ff0000"/>
<rect x="1121" y="479" width="1" height="14" fill="#ff0000"/>
<rect x="1120" y="479" width="3" height="7" fill="#ff0000"/>
<rect x="1125" y="471" width="1" height="18" fill="#00ff00"/>
<rect x="1124" y="478" width="3" height="11" fill="#00ff00"/>
<rect x="1129" y="463" width="1" height="31" fill="#ff0000"/>
<rect x="1128" y="473" width="3" height="16" fill="#ff0000"/>
<rect x="1133" y="450" width="1" height="27" fill="#ff0000"/>
<rect x="1132" y="466" width="3" height="9" fill="#ff0000"/>
<rect x="1137" y="451" width="1" height="31" fill="#00ff00"/>
<rect x="1136" y="466" width="3" height="9" fill="#00ff00"/>
<rect x="1141" y="463" width="1" height="13" fill="#ff0000"/>
<rect x="1140" y="467" width="3" height="8" fill="#ff0000"/>
<rect x="1145" y="459" width="1" height="17" fill="#ff0000"/>
<rect x="1144" y="460" width="3" height="12" fill="#ff0000"/>
<rect x="1149" y="452" width="1" height="21" fill="#00ff00"/>
<rect x="1148" y="460" width="3" height="2" fill="#00ff00"/>
<rect x="1153" y="460" width="1" height="16" fill="#00ff00"/>
<rect x="1152" y="461" width="3" height="10" fill="#00ff00"/>
<rect x="1157" y="458" width="1" height="18" fill="#ff0000"/>
<rect x="1156" y="459" width="3" height="9" fill="#ff0000"/>
<rect x="1161" y="457" width="1" height="17" fill="#00ff00"/>
<rect x="1160" y="459" width="3" height="15" fill="#00ff00"/>
<rect x="1165" y="471" width="1" height="5" fill="#00ff00"/>
<rect x="1164" y="473" width="3" height="2" fill="#00ff00"/>
<rect x="1169" y="473" width="1" height="9" fill="#00ff00"/>
<rect x="1168" y="477" width="3" height="2" fill="#00ff00"/>
<rect x="1173" y="475" width="1" height="13" fill="#00ff00"/>
<rect x="1172" y="478" width="3" height="8" fill="#00ff00"/>
<rect x="1177" y="482" width="1" height="16" fill="#00ff00"/>
<rect x="1176" y="485" width="3" height="9" fill="#00ff00"/>
<rect x="1181" y="488" width="1" height="12" fill="#ff0000"/>
<rect x="1180" y="493" width="3" height="1" fill="#ff0000"/>
<rect x="1185" y="476" width="1" height="19" fill="#ff0000"/>
<rect x="1184" y="489" width="3" height="5" fill="#ff0000"/>
<rect x="1189" y="487" width="1" height="9" fill="#00ff00"/>
<rect x="1188" y="489" width="3" height="3" fill="#00ff00"/>
<rect x="1193" y="492" width="1" height="12" fill="#00ff00"/>
<rect x="1192" y="493" width="3" height="10" fill="#00ff00"/>
<rect x="1197" y="490" width="1" height="21" fill="#ff0000"/>
<rect x="1196" y="494" width="3" height="8" fill="#ff0000"/>
<rect x="1201" y="480" width="1" height="17" fill="#ff0000"/>
<rect x="1200" y="484" width="3" height="11" fill="#ff0000"/>
<rect x="1205" y="482" width="1" height="16" fill="#00ff00"/>
<rect x="1204" y="484" width="3" height="2" fill="#00ff00"/>
<rect x="1209" y="485" width="1" height="27" fill="#00ff00"/>
<rect x="1208" y="485" width="3" height="26" fill="#00ff00"/>
<rect x="1213" y="506" width="1" height="8" fill="#ff0000"/>
<rect x="1212" y="507" width="3" height="3" fill="#ff0000"/>
<rect x="1217" y="502" width="1" height="15" fill="#ff0000"/>
<rect x="1216" y="509" width="3" height="1" fill="#ff0000"/>
<rect x="1221" y="502" width="1" height="13" fill="#00ff00"/>
<rect x="1220" y="509" width="3" height="3" fill="#00ff00"/>
<rect x="1225" y="510" width="1" height="14" fill="#00ff00"/>
<rect x="1224" y="512" width="3" height="9" fill="#00ff00"/>
<rect x="1229" y="520" width="1" height="22" fill="#00ff00"/>
<rect x="1228" y="520" width="3" height="12" fill="#00ff00"/>
<rect x="1233" y="493" width="1" height="40" fill="#ff0000"/>
<rect x="1232" y="499" width="3" height="33" fill="#ff0000"/>
<rect x="1237" y="483" width="1" height="19" fill="#ff0000"/>
<rect x="1236" y="488" width="3" height="14" fill="#ff0000"/>
<rect x="1241" y="482" width="1" height="21" fill="#00ff00"/>
<rect x="1240" y="483" width="3" height="20" fill="#00ff00"/>
<rect x="1245" y="490" width="1" height="19" fill="#00ff00"/>
<rect x="1244" y="502" width="3" height="6" fill="#00ff00"/>
<rect x="1249" y="499" width="1" height="15" fill="#ff0000"/>
<rect x="1248" y="506" width="3" height="2" fill="#ff0000"/>
<rect x="1253" y="495" width="1" height="17" fill="#00ff00"/>
<rect x="1252" y="506" width="3" height="4" fill="#00ff00"/>
<rect x="1257" y="491" width="1" height="27" fill="#ff0000"/>
<rect x="1256" y="492" width="3" height="18" fill="#ff0000"/>
</g>
<path d="M73 98.5h2M73 99.5h1M75 99.5h1M72 100.5h1M76 100.5h2M72 101.5h1M77 101.5h1M71 102.5h1M78 102.5h1M71 103.5h1M78 103.5h1M70 104.5h2M79 104.5h1M70 105.5h1M80 105.5h1M70 106.5h1M80 106.5h1M69 107.5h1M81 107.5h1M69 108.5h1M81 108.5h1M68 109.5h1M81 109.5h1M68 110.5h1M82 110.5h1M68 111.5h1M82 111.5h1M68 112.5h1M82 112.5h1M67 113.5h1M82 113.5h1M67 114.5h1M83 114.5h1M67 115.5h1M83 115.5h1M67 116.5h1M83 116.5h1M67 117.5h1M83 117.5h1M67 118.5h1M84 118.5h1M66 119.5h1M84 119.5h1M66 120.5h1M84 120.5h1M66 121.5h1M84 121.5h1M66 122.5h1M85 122.5h1M66 123.5h1M85 123.5h1M65 124.5h2M85 124.5h1M65 125.5h1M85 125.5h1M65 126.5h1M85 126.5h1M65 127.5h1M86 127.5h1M65 128.5h1M86 128.5h1M64 129.5h1M86 129.5h1M64 130.5h1M86 130.5h1M64 131.5h1M86 131.5h1M64 132.5h1M87 132.5h1M64 133.5h1M87 133.5h1M64 134.5h1M87 134.5h1M63 135.5h1M87 135.5h1M63 136.5h1M87 136.5h1M63 137.5h1M88 137.5h1M63 138.5h1M88 138.5h1M63 139.5h1M88 139.5h1M63 140.5h1M88 140.5h1M62 141.5h1M89 141.5h1M62 142.5h1M89 142.5h1M62 143.5h1M89 143.5h1M62 144.5h1M89 144.5h1M62 145.5h1M89 145.5h1M62 146.5h1M90 146.5h1M61 147.5h1M90 147.5h1M61 148.5h1M90 148.5h1M61 149.5h1M90 149.5h1M61 150.5h1M90 150.5h1M61 151.5h1M91 151.5h1M60 152.5h1M91 152.5h1M60 153.5h1M91 153.5h1M60 154.5h1M91 154.5h1M60 155.5h1M91 155.5h1M60 156.5h1M92 156.5h1M59 157.5h2M92 157.5h1M59 158.5h1M92 158.5h1M59 159.5h1M92 159.5h1M59 160.5h1M93 160.5h1M59 161.5h1M93 161.5h1M59 162.5h1M93 162.5h1M58 163.5h1M93 163.5h1M58 164.5h1M94 164.5h1M58 165.5h1M94 165.5h1M58 166.5h1M94 166.5h1M58 167.5h1M94 167.5h1M115 167.5h5M58 168.5h1M95 168.5h1M114 168.5h1M120 168.5h2M58 169.5h1M95 169.5h1M112 169.5h2M121 169.5h1M57 170.5h1M95 170.5h1M110 170.5h2M121 170.5h1M57 171.5h1M95 171.5h1M110 171.5h1M122 171.5h1M57 172.5h1M96 172.5h1M109 172.5h1M123 172.5h1M57 173.5h1M96 173.5h1M107 173.5h2M123 173.5h1M57 174.5h1M96 174.5h1M107 174.5h1M123 174.5h1M57 175.5h1M96 175.5h1M106 175.5h1M124 175.5h1M56 176.5h1M96 176.5h1M105 176.5h1M124 176.5h1M188 176.5h1M56 177.5h1M97 177.5h1M104 177.5h1M125 177.5h1M186 177.5h2M189 177.5h1M56 178.5h1M97 178.5h1M104 178.5h1M125 178.5h1M185 178.5h1M189 178.5h1M56 179.5h1M97 179.5h2M103 179.5h1M126 179.5h1M182 179.5h3M190 179.5h1M56 180.5h1M98 180.5h1M103 180.5h1M127 180.5h1M178 180.5h4M191 180.5h1M56 181.5h1M99 181.5h1M102 181.5h1M128 181.5h1M173 181.5h5M191 181.5h1M56 182.5h1M99 182.5h1M102 182.5h1M128 182.5h1M172 182.5h1M192 182.5h1M55 183.5h1M100 183.5h1M102 183.5h1M129 183.5h1M171 183.5h1M193 183.5h1M225 183.5h1M55 184.5h1M100 184.5h2M129 184.5h1M171 184.5h1M193 184.5h1M225 184.5h2M262 184.5h3M55 185.5h1M101 185.5h1M130 185.5h1M170 185.5h1M194 185.5h1M224 185.5h1M227 185.5h1M260 185.5h2M264 185.5h1M55 186.5h1M130 186.5h1M169 186.5h1M194 186.5h1M224 186.5h1M228 186.5h1M259 186.5h1M264 186.5h1M55 187.5h1M130 187.5h1M168 187.5h1M195 187.5h1M223 187.5h1M229 187.5h1M257 187.5h2M265 187.5h1M55 188.5h1M131 188.5h1M168 188.5h1M196 188.5h1M222 188.5h1M229 188.5h1M257 188.5h1M265 188.5h1M54 189.5h1M132 189.5h1M166 189.5h2M197 189.5h1M222 189.5h1M230 189.5h1M256 189.5h1M265 189.5h1M54 190.5h1M132 190.5h1M165 190.5h1M197 190.5h1M221 190.5h1M230 190.5h1M256 190.5h1M266 190.5h1M54 191.5h1M132 191.5h1M165 191.5h1M198 191.5h1M221 191.5h1M231 191.5h1M255 191.5h1M266 191.5h1M54 192.5h1M133 192.5h1M163 192.5h2M198 192.5h1M220 192.5h1M231 192.5h1M254 192.5h1M267 192.5h1M54 193.5h1M133 193.5h1M161 193.5h2M199 193.5h1M220 193.5h1M232 193.5h1M253 193.5h2M267 193.5h1M54 194.5h1M134 194.5h1M160 194.5h1M200 194.5h1M219 194.5h1M233 194.5h1M253 194.5h1M267 194.5h1M54 195.5h1M134 195.5h1M158 195.5h2M200 195.5h1M217 195.5h2M233 195.5h1M252 195.5h1M268 195.5h1M53 196.5h1M135 196.5h1M157 196.5h1M201 196.5h2M217 196.5h1M234 196.5h1M252 196.5h1M268 196.5h1M53 197.5h1M135 197.5h1M157 197.5h1M202 197.5h1M216 197.5h1M234 197.5h1M251 197.5h1M268 197.5h1M53 198.5h1M135 198.5h1M156 198.5h1M203 198.5h1M215 198.5h1M234 198.5h2M251 198.5h1M269 198.5h1M53 199.5h1M136 199.5h1M156 199.5h1M204 199.5h1M213 199.5h2M236 199.5h2M250 199.5h1M269 199.5h1M53 200.5h1M136 200.5h2M155 200.5h1M204 200.5h2M212 200.5h2M238 200.5h2M249 200.5h1M270 200.5h1M53 201.5h1M137 201.5h1M154 201.5h1M206 201.5h2M209 201.5h3M240 201.5h2M249 201.5h1M270 201.5h1M52 202.5h1M138 202.5h1M154 202.5h1M208 202.5h1M241 202.5h1M248 202.5h1M271 202.5h1M52 203.5h1M138 203.5h1M153 203.5h1M242 203.5h1M247 203.5h2M272 203.5h1M52 204.5h1M138 204.5h1M153 204.5h1M242 204.5h2M246 204.5h1M273 204.5h1M52 205.5h1M139 205.5h1M152 205.5h1M243 205.5h1M246 205.5h1M273 205.5h1M52 206.5h1M140 206.5h1M152 206.5h1M244 206.5h2M274 206.5h1M51 207.5h1M141 207.5h2M151 207.5h1M245 207.5h1M274 207.5h1M51 208.5h1M143 208.5h2M150 208.5h2M275 208.5h1M51 209.5h1M145 209.5h1M150 209.5h1M276 209.5h1M288 209.5h3M51 210.5h1M146 210.5h2M149 210.5h1M277 210.5h1M286 210.5h2M290 210.5h1M50 211.5h1M148 211.5h2M278 211.5h2M284 211.5h2M291 211.5h2M50 212.5h1M280 212.5h2M283 212.5h1M293 212.5h1M50 213.5h1M282 213.5h1M294 213.5h1M50 214.5h1M294 214.5h1M49 215.5h1M294 215.5h1M49 216.5h1M295 216.5h1M49 217.5h1M295 217.5h1M49 218.5h1M296 218.5h1M49 219.5h1M296 219.5h1M48 220.5h1M297 220.5h1M48 221.5h1M297 221.5h1M48 222.5h1M298 222.5h1M48 223.5h1M298 223.5h1M47 224.5h1M298 224.5h1M47 225.5h1M299 225.5h1M46 226.5h1M299 226.5h1M46 227.5h1M299 227.5h1M46 228.5h1M300 228.5h1M46 229.5h1M300 229.5h1M45 230.5h1M301 230.5h1M45 231.5h1M301 231.5h1M45 232.5h1M301 232.5h1M45 233.5h1M302 233.5h1M44 234.5h1M302 234.5h2M44 235.5h1M303 235.5h1M44 236.5h1M304 236.5h1M44 237.5h1M304 237.5h1M43 238.5h1M305 238.5h1M43 239.5h1M305 239.5h1M43 240.5h1M305 240.5h1M43 241.5h1M306 241.5h1M42 242.5h1M306 242.5h1M42 243.5h1M307 243.5h1M42 244.5h1M307 244.5h1M42 245.5h1M308 245.5h1M41 246.5h1M308 246.5h1M41 247.5h1M309 247.5h1M41 248.5h1M309 248.5h2M41 249.5h1M310 249.5h1M41 250.5h1M311 250.5h1M40 251.5h1M311 251.5h1M40 252.5h1M312 252.5h1M40 253.5h1M312 253.5h1M40 254.5h1M312 254.5h1M40 255.5h1M313 255.5h1M39 256.5h1M313 256.5h1M39 257.5h1M313 257.5h1M39 258.5h1M314 258.5h1M39 259.5h1M314 259.5h1M39 260.5h1M314 260.5h1M38 261.5h1M314 261.5h1M38 262.5h1M315 262.5h1M38 263.5h1M315 263.5h1M38 264.5h1M315 264.5h1M37 265.5h1M316 265.5h1M37 266.5h1M316 266.5h1M37 267.5h1M316 267.5h1M37 268.5h1M317 268.5h1M37 269.5h1M317 269.5h1M37 270.5h1M317 270.5h1M36 271.5h1M318 271.5h1M36 272.5h1M318 272.5h1M36 273.5h1M318 273.5h1M36 274.5h1M318 274.5h1M36 275.5h1M319 275.5h1M35 276.5h1M319 276.5h1M411 276.5h2M35 277.5h1M319 277.5h1M410 277.5h1M413 277.5h1M35 278.5h1M320 278.5h1M408 278.5h2M414 278.5h1M35 279.5h1M320 279.5h1M407 279.5h1M415 279.5h1M35 280.5h1M320 280.5h1M406 280.5h1M416 280.5h2M34 281.5h1M320 281.5h1M405 281.5h1M418 281.5h1M34 282.5h1M321 282.5h1M405 282.5h1M419 282.5h1M34 283.5h1M321 283.5h1M404 283.5h1M420 283.5h1M34 284.5h1M321 284.5h1M404 284.5h1M421 284.5h1M34 285.5h1M322 285.5h1M403 285.5h1M422 285.5h1M33 286.5h1M322 286.5h1M402 286.5h1M423 286.5h2M33 287.5h1M322 287.5h1M401 287.5h2M424 287.5h1M33 288.5h1M323 288.5h1M401 288.5h1M425 288.5h1M33 289.5h1M323 289.5h1M400 289.5h1M426 289.5h1M32 290.5h1M323 290.5h1M399 290.5h1M427 290.5h1M32 291.5h1M323 291.5h2M398 291.5h1M427 291.5h1M32 292.5h1M324 292.5h1M369 292.5h12M397 292.5h1M428 292.5h1M461 292.5h1M32 293.5h1M324 293.5h1M366 293.5h3M381 293.5h2M396 293.5h1M429 293.5h1M457 293.5h4M462 293.5h2M32 294.5h1M324 294.5h1M366 294.5h1M383 294.5h3M394 294.5h2M430 294.5h1M455 294.5h2M464 294.5h1M31 295.5h1M325 295.5h1M365 295.5h1M386 295.5h3M390 295.5h5M430 295.5h1M452 295.5h3M465 295.5h2M31 296.5h1M325 296.5h1M364 296.5h1M388 296.5h2M431 296.5h2M449 296.5h3M467 296.5h1M31 297.5h1M325 297.5h1M363 297.5h1M433 297.5h2M446 297.5h4M468 297.5h1M31 298.5h1M325 298.5h1M362 298.5h1M435 298.5h11M469 298.5h11M31 299.5h1M325 299.5h1M362 299.5h1M480 299.5h1M30 300.5h1M326 300.5h1M360 300.5h2M480 300.5h1M30 301.5h1M326 301.5h1M360 301.5h1M481 301.5h1M30 302.5h1M326 302.5h1M359 302.5h1M482 302.5h1M30 303.5h1M326 303.5h1M359 303.5h1M483 303.5h2M30 304.5h1M326 304.5h1M358 304.5h1M484 304.5h1M29 305.5h1M327 305.5h1M358 305.5h1M485 305.5h1M29 306.5h1M327 306.5h1M357 306.5h1M485 306.5h1M29 307.5h1M327 307.5h1M357 307.5h1M486 307.5h1M29 308.5h1M327 308.5h1M357 308.5h1M486 308.5h1M28 309.5h2M328 309.5h1M356 309.5h1M487 309.5h1M28 310.5h1M328 310.5h1M356 310.5h1M488 310.5h1M28 311.5h1M328 311.5h1M355 311.5h1M488 311.5h1M28 312.5h1M329 312.5h1M355 312.5h1M489 312.5h1M27 313.5h1M329 313.5h1M354 313.5h1M490 313.5h1M27 314.5h1M330 314.5h1M353 314.5h1M490 314.5h1M27 315.5h1M331 315.5h1M353 315.5h1M491 315.5h1M27 316.5h1M331 316.5h1M353 316.5h1M491 316.5h1M26 317.5h1M332 317.5h1M352 317.5h1M492 317.5h1M26 318.5h1M332 318.5h1M352 318.5h1M492 318.5h1M26 319.5h1M333 319.5h1M352 319.5h1M493 319.5h1M26 320.5h1M333 320.5h2M351 320.5h1M493 320.5h1M26 321.5h1M335 321.5h1M351 321.5h1M494 321.5h1M25 322.5h1M336 322.5h1M351 322.5h1M494 322.5h1M25 323.5h1M336 323.5h1M349 323.5h2M495 323.5h1M25 324.5h1M337 324.5h2M349 324.5h1M496 324.5h1M25 325.5h1M339 325.5h2M348 325.5h1M496 325.5h1M24 326.5h1M341 326.5h3M347 326.5h1M497 326.5h1M24 327.5h1M343 327.5h3M347 327.5h1M497 327.5h1M24 328.5h1M346 328.5h1M498 328.5h1M23 329.5h1M499 329.5h1M22 330.5h1M500 330.5h1M22 331.5h1M500 331.5h2M21 332.5h1M502 332.5h1M20 333.5h1M503 333.5h1M20 334.5h1M504 334.5h2M19 335.5h1M506 335.5h2M516 335.5h5M527 335.5h6M18 336.5h1M508 336.5h8M521 336.5h6M533 336.5h1M725 336.5h1M4 337.5h15M534 337.5h1M720 337.5h5M726 337.5h3M12 338.5h1M535 338.5h1M719 338.5h1M729 338.5h1M535 339.5h1M718 339.5h1M730 339.5h1M536 340.5h1M717 340.5h1M730 340.5h1M536 341.5h1M715 341.5h2M731 341.5h1M537 342.5h1M714 342.5h1M732 342.5h2M538 343.5h1M713 343.5h1M734 343.5h1M538 344.5h2M713 344.5h1M735 344.5h1M539 345.5h1M712 345.5h1M736 345.5h1M540 346.5h1M712 346.5h1M736 346.5h1M541 347.5h1M544 347.5h4M556 347.5h1M711 347.5h1M737 347.5h1M541 348.5h3M548 348.5h4M553 348.5h3M557 348.5h4M711 348.5h1M738 348.5h1M552 349.5h1M561 349.5h1M710 349.5h1M739 349.5h1M561 350.5h1M709 350.5h2M740 350.5h2M562 351.5h1M709 351.5h1M742 351.5h1M562 352.5h1M708 352.5h1M743 352.5h1M841 352.5h1M563 353.5h1M708 353.5h1M744 353.5h1M840 353.5h1M842 353.5h1M563 354.5h1M707 354.5h1M745 354.5h1M838 354.5h2M842 354.5h1M564 355.5h1M707 355.5h1M745 355.5h1M837 355.5h1M843 355.5h1M564 356.5h1M707 356.5h1M746 356.5h2M836 356.5h1M843 356.5h1M565 357.5h1M706 357.5h1M748 357.5h3M836 357.5h1M844 357.5h1M565 358.5h1M706 358.5h1M751 358.5h3M835 358.5h1M844 358.5h1M566 359.5h1M705 359.5h1M754 359.5h2M834 359.5h1M845 359.5h1M567 360.5h1M705 360.5h1M756 360.5h1M833 360.5h1M846 360.5h1M567 361.5h1M704 361.5h1M756 361.5h1M833 361.5h1M846 361.5h1M568 362.5h1M704 362.5h1M757 362.5h1M832 362.5h1M846 362.5h1M568 363.5h2M703 363.5h2M757 363.5h1M831 363.5h1M846 363.5h1M570 364.5h1M703 364.5h1M758 364.5h1M831 364.5h1M847 364.5h1M571 365.5h1M703 365.5h1M758 365.5h1M830 365.5h1M847 365.5h1M572 366.5h1M702 366.5h1M758 366.5h2M830 366.5h1M847 366.5h1M572 367.5h1M702 367.5h1M759 367.5h1M830 367.5h1M848 367.5h1M573 368.5h1M702 368.5h1M760 368.5h1M829 368.5h1M848 368.5h1M574 369.5h2M701 369.5h1M760 369.5h1M829 369.5h1M848 369.5h1M576 370.5h1M701 370.5h1M761 370.5h1M828 370.5h1M849 370.5h1M577 371.5h2M700 371.5h1M761 371.5h1M828 371.5h1M849 371.5h1M579 372.5h1M700 372.5h1M762 372.5h1M828 372.5h1M849 372.5h1M580 373.5h1M699 373.5h1M762 373.5h1M827 373.5h1M850 373.5h1M581 374.5h2M699 374.5h1M763 374.5h1M827 374.5h1M850 374.5h1M583 375.5h1M698 375.5h1M764 375.5h1M826 375.5h1M850 375.5h1M583 376.5h2M697 376.5h1M764 376.5h2M826 376.5h1M851 376.5h1M585 377.5h1M697 377.5h1M765 377.5h1M826 377.5h1M851 377.5h1M586 378.5h2M696 378.5h1M766 378.5h1M825 378.5h1M851 378.5h1M588 379.5h1M695 379.5h1M766 379.5h1M824 379.5h1M851 379.5h1M589 380.5h2M600 380.5h8M694 380.5h1M767 380.5h1M824 380.5h1M852 380.5h1M591 381.5h2M597 381.5h4M608 381.5h1M692 381.5h2M767 381.5h1M823 381.5h1M852 381.5h1M593 382.5h1M595 382.5h2M609 382.5h1M685 382.5h7M768 382.5h1M791 382.5h3M823 382.5h1M852 382.5h1M594 383.5h1M610 383.5h1M671 383.5h14M768 383.5h1M789 383.5h2M794 383.5h2M823 383.5h1M853 383.5h1M611 384.5h1M669 384.5h2M769 384.5h1M787 384.5h2M796 384.5h2M822 384.5h1M853 384.5h1M612 385.5h1M667 385.5h2M769 385.5h1M786 385.5h1M798 385.5h1M822 385.5h1M853 385.5h1M613 386.5h1M666 386.5h1M770 386.5h1M785 386.5h1M799 386.5h1M821 386.5h1M853 386.5h1M613 387.5h1M665 387.5h1M770 387.5h1M784 387.5h1M800 387.5h1M820 387.5h1M854 387.5h1M614 388.5h2M665 388.5h1M771 388.5h1M783 388.5h1M801 388.5h1M819 388.5h1M854 388.5h1M616 389.5h1M664 389.5h1M772 389.5h1M782 389.5h1M802 389.5h1M817 389.5h2M854 389.5h1M617 390.5h1M664 390.5h1M772 390.5h1M781 390.5h1M803 390.5h2M816 390.5h1M855 390.5h1M617 391.5h1M663 391.5h1M773 391.5h1M780 391.5h1M805 391.5h1M815 391.5h2M855 391.5h1M618 392.5h1M662 392.5h2M774 392.5h2M779 392.5h1M806 392.5h2M813 392.5h2M855 392.5h1M619 393.5h1M661 393.5h1M775 393.5h4M808 393.5h5M856 393.5h1M619 394.5h1M660 394.5h1M856 394.5h1M620 395.5h1M659 395.5h2M856 395.5h1M621 396.5h1M658 396.5h1M857 396.5h1M621 397.5h1M656 397.5h2M857 397.5h1M891 397.5h3M622 398.5h1M654 398.5h2M857 398.5h1M889 398.5h2M894 398.5h2M623 399.5h1M653 399.5h1M858 399.5h1M886 399.5h3M896 399.5h1M624 400.5h1M652 400.5h1M858 400.5h1M886 400.5h1M897 400.5h2M625 401.5h1M651 401.5h1M858 401.5h1M885 401.5h1M899 401.5h1M626 402.5h1M650 402.5h1M858 402.5h1M884 402.5h1M900 402.5h1M626 403.5h1M650 403.5h1M859 403.5h1M883 403.5h1M900 403.5h1M627 404.5h1M648 404.5h2M859 404.5h1M883 404.5h1M901 404.5h1M628 405.5h1M646 405.5h2M859 405.5h2M882 405.5h1M902 405.5h13M629 406.5h2M643 406.5h3M860 406.5h1M882 406.5h1M915 406.5h2M631 407.5h1M636 407.5h7M861 407.5h1M881 407.5h1M917 407.5h3M632 408.5h4M862 408.5h1M880 408.5h1M920 408.5h1M862 409.5h1M880 409.5h1M920 409.5h1M863 410.5h1M879 410.5h1M921 410.5h2M863 411.5h1M879 411.5h1M923 411.5h1M864 412.5h1M878 412.5h1M924 412.5h1M865 413.5h1M878 413.5h1M925 413.5h1M866 414.5h1M877 414.5h1M926 414.5h1M867 415.5h1M875 415.5h2M927 415.5h1M868 416.5h1M874 416.5h1M928 416.5h1M869 417.5h1M871 417.5h3M928 417.5h2M870 418.5h1M930 418.5h1M931 419.5h1M932 420.5h1M933 421.5h1M933 422.5h1M934 423.5h2M936 424.5h1M937 425.5h2M939 426.5h2M940 427.5h1M941 428.5h1M942 429.5h1M943 430.5h1M944 431.5h1M945 432.5h1M946 433.5h1M946 434.5h2M948 435.5h1M948 436.5h1M949 437.5h1M949 438.5h1M950 439.5h1M951 440.5h1M951 441.5h1M951 442.5h1M952 443.5h1M952 444.5h2M953 445.5h1M953 446.5h1M954 447.5h1M954 448.5h1M955 449.5h1M955 450.5h1M956 451.5h1M956 452.5h1M957 453.5h1M957 454.5h1M958 455.5h1M1021 455.5h10M959 456.5h1M1019 456.5h2M1030 456.5h3M959 457.5h1M1018 457.5h1M1033 457.5h1M960 458.5h1M1018 458.5h1M1034 458.5h1M960 459.5h1M1017 459.5h1M1035 459.5h1M961 460.5h1M1016 460.5h1M1035 460.5h2M961 461.5h1M1016 461.5h1M1037 461.5h1M962 462.5h1M1015 462.5h1M1038 462.5h1M963 463.5h1M1014 463.5h1M1039 463.5h1M1157 463.5h2M964 464.5h1M1014 464.5h1M1039 464.5h1M1153 464.5h4M1159 464.5h3M965 465.5h1M1013 465.5h1M1040 465.5h1M1151 465.5h2M1162 465.5h1M966 466.5h1M1013 466.5h1M1041 466.5h1M1148 466.5h3M1163 466.5h1M967 467.5h1M1012 467.5h1M1042 467.5h1M1147 467.5h1M1164 467.5h1M968 468.5h2M1011 468.5h1M1042 468.5h1M1146 468.5h1M1165 468.5h2M970 469.5h2M1011 469.5h1M1043 469.5h1M1144 469.5h2M1167 469.5h1M971 470.5h2M1010 470.5h1M1043 470.5h1M1144 470.5h1M1168 470.5h1M973 471.5h2M1009 471.5h1M1044 471.5h1M1143 471.5h1M1169 471.5h1M975 472.5h2M1009 472.5h1M1045 472.5h1M1141 472.5h2M1170 472.5h1M977 473.5h4M1008 473.5h1M1045 473.5h1M1139 473.5h2M1170 473.5h1M981 474.5h5M1007 474.5h1M1046 474.5h1M1137 474.5h2M1171 474.5h1M986 475.5h2M1007 475.5h1M1046 475.5h2M1135 475.5h2M1172 475.5h1M988 476.5h3M1006 476.5h1M1047 476.5h1M1133 476.5h3M1173 476.5h2M991 477.5h15M1048 477.5h1M1132 477.5h1M1174 477.5h1M1048 478.5h1M1131 478.5h1M1175 478.5h1M1049 479.5h1M1130 479.5h1M1176 479.5h1M1050 480.5h1M1130 480.5h1M1176 480.5h1M1051 481.5h1M1076 481.5h6M1088 481.5h1M1129 481.5h1M1177 481.5h1M1052 482.5h1M1075 482.5h1M1082 482.5h2M1085 482.5h3M1089 482.5h4M1129 482.5h1M1178 482.5h1M1053 483.5h3M1073 483.5h2M1084 483.5h1M1093 483.5h2M1101 483.5h1M1128 483.5h1M1179 483.5h1M1056 484.5h3M1072 484.5h1M1095 484.5h2M1098 484.5h3M1102 484.5h2M1128 484.5h1M1180 484.5h1M1059 485.5h2M1069 485.5h3M1097 485.5h1M1104 485.5h2M1127 485.5h1M1181 485.5h1M1061 486.5h8M1106 486.5h1M1127 486.5h1M1182 486.5h1M1107 487.5h1M1125 487.5h2M1183 487.5h1M1107 488.5h1M1125 488.5h1M1184 488.5h2M1108 489.5h1M1124 489.5h1M1186 489.5h1M1109 490.5h2M1123 490.5h1M1187 490.5h2M1111 491.5h2M1122 491.5h1M1189 491.5h2M1204 491.5h1M1113 492.5h5M1121 492.5h1M1191 492.5h2M1200 492.5h4M1205 492.5h1M1118 493.5h3M1192 493.5h8M1206 493.5h2M1208 494.5h1M1209 495.5h2M1211 496.5h2M1213 497.5h2M1215 498.5h1M1216 499.5h1M1217 500.5h1M1218 501.5h1M1219 502.5h1M1255 502.5h3M1220 503.5h1M1250 503.5h5M1220 504.5h2M1247 504.5h3M1221 505.5h1M1244 505.5h3M1222 506.5h1M1242 506.5h2M1223 507.5h1M1241 507.5h1M1223 508.5h1M1240 508.5h1M1224 509.5h1M1238 509.5h2M1225 510.5h1M1237 510.5h1M1225 511.5h1M1236 511.5h1M1226 512.5h1M1235 512.5h1M1227 513.5h1M1234 513.5h1M1227 514.5h1M1231 514.5h3M1228 515.5h1M1230 515.5h2M1229 516.5h1" fill="none" stroke="#ffa500" stroke-width="1"/>
<path d="M104 139.5h5M103 140.5h1M109 140.5h1M102 141.5h1M109 141.5h1M101 142.5h1M110 142.5h1M99 143.5h2M110 143.5h1M98 144.5h1M111 144.5h1M97 145.5h1M112 145.5h1M96 146.5h1M112 146.5h2M94 147.5h2M114 147.5h1M93 148.5h1M115 148.5h1M91 149.5h2M116 149.5h1M90 150.5h1M117 150.5h1M89 151.5h1M117 151.5h1M88 152.5h1M118 152.5h1M86 153.5h2M119 153.5h1M85 154.5h1M120 154.5h1M85 155.5h1M121 155.5h1M84 156.5h1M122 156.5h1M84 157.5h1M122 157.5h2M83 158.5h1M123 158.5h1M82 159.5h1M123 159.5h1M81 160.5h2M124 160.5h1M81 161.5h1M124 161.5h1M81 162.5h1M125 162.5h1M80 163.5h1M125 163.5h1M80 164.5h1M126 164.5h1M80 165.5h1M126 165.5h1M79 166.5h1M127 166.5h1M79 167.5h1M127 167.5h1M79 168.5h1M128 168.5h1M78 169.5h1M128 169.5h1M78 170.5h1M129 170.5h1M78 171.5h1M129 171.5h1M78 172.5h1M130 172.5h1M77 173.5h1M130 173.5h1M77 174.5h1M130 174.5h1M77 175.5h1M131 175.5h1M76 176.5h1M131 176.5h1M76 177.5h1M132 177.5h1M76 178.5h1M132 178.5h1M76 179.5h1M133 179.5h1M75 180.5h1M134 180.5h2M75 181.5h1M135 181.5h1M75 182.5h1M136 182.5h1M75 183.5h1M137 183.5h1M74 184.5h1M138 184.5h2M74 185.5h1M140 185.5h1M74 186.5h1M141 186.5h2M74 187.5h1M143 187.5h3M74 188.5h1M146 188.5h11M196 188.5h10M215 188.5h4M73 189.5h1M157 189.5h2M190 189.5h6M206 189.5h9M219 189.5h7M73 190.5h1M158 190.5h2M187 190.5h3M226 190.5h2M262 190.5h3M73 191.5h1M160 191.5h2M183 191.5h4M228 191.5h2M259 191.5h3M264 191.5h2M73 192.5h1M162 192.5h2M181 192.5h2M230 192.5h2M257 192.5h2M266 192.5h1M72 193.5h1M164 193.5h2M179 193.5h2M232 193.5h2M255 193.5h2M267 193.5h1M72 194.5h1M166 194.5h13M234 194.5h3M253 194.5h2M268 194.5h1M72 195.5h1M237 195.5h3M251 195.5h2M269 195.5h1M72 196.5h1M240 196.5h2M250 196.5h2M270 196.5h1M72 197.5h1M242 197.5h2M246 197.5h4M271 197.5h1M71 198.5h1M244 198.5h2M272 198.5h2M71 199.5h1M274 199.5h3M71 200.5h1M277 200.5h3M70 201.5h1M280 201.5h13M70 202.5h1M293 202.5h1M70 203.5h1M294 203.5h1M70 204.5h1M295 204.5h1M69 205.5h1M296 205.5h1M69 206.5h1M297 206.5h2M69 207.5h1M299 207.5h1M69 208.5h1M300 208.5h1M68 209.5h1M301 209.5h1M68 210.5h1M301 210.5h1M68 211.5h1M302 211.5h2M68 212.5h1M304 212.5h1M67 213.5h1M305 213.5h1M67 214.5h1M305 214.5h1M67 215.5h1M306 215.5h1M66 216.5h1M307 216.5h1M66 217.5h1M308 217.5h1M66 218.5h1M308 218.5h1M66 219.5h1M309 219.5h1M65 220.5h1M309 220.5h1M65 221.5h1M310 221.5h1M65 222.5h1M311 222.5h1M65 223.5h1M311 223.5h1M64 224.5h1M312 224.5h1M64 225.5h1M312 225.5h1M64 226.5h1M313 226.5h1M64 227.5h1M313 227.5h1M63 228.5h1M314 228.5h1M63 229.5h1M314 229.5h1M63 230.5h1M315 230.5h1M63 231.5h1M315 231.5h1M62 232.5h1M315 232.5h1M62 233.5h1M316 233.5h1M62 234.5h1M316 234.5h1M62 235.5h1M317 235.5h1M61 236.5h1M318 236.5h1M61 237.5h1M318 237.5h1M61 238.5h1M318 238.5h1M61 239.5h1M319 239.5h1M60 240.5h1M319 240.5h1M60 241.5h1M320 241.5h1M60 242.5h1M320 242.5h1M60 243.5h1M320 243.5h1M59 244.5h1M321 244.5h1M59 245.5h1M322 245.5h1M59 246.5h1M322 246.5h1M59 247.5h1M323 247.5h1M58 248.5h1M323 248.5h1M58 249.5h1M324 249.5h1M58 250.5h1M324 250.5h1M58 251.5h1M325 251.5h1M57 252.5h1M326 252.5h1M57 253.5h1M326 253.5h1M57 254.5h1M327 254.5h1M57 255.5h1M327 255.5h1M56 256.5h1M328 256.5h1M56 257.5h1M328 257.5h1M56 258.5h1M329 258.5h1M56 259.5h1M329 259.5h1M55 260.5h1M330 260.5h1M55 261.5h1M330 261.5h1M55 262.5h1M331 262.5h1M55 263.5h1M331 263.5h1M54 264.5h1M331 264.5h1M54 265.5h1M332 265.5h1M54 266.5h1M332 266.5h1M54 267.5h1M333 267.5h1M53 268.5h1M333 268.5h1M53 269.5h1M333 269.5h1M53 270.5h1M334 270.5h1M53 271.5h1M335 271.5h1M52 272.5h1M335 272.5h1M52 273.5h1M336 273.5h1M52 274.5h1M336 274.5h1M52 275.5h1M337 275.5h1M51 276.5h1M337 276.5h1M51 277.5h1M337 277.5h1M51 278.5h1M338 278.5h1M50 279.5h1M338 279.5h1M50 280.5h1M339 280.5h1M50 281.5h1M339 281.5h1M49 282.5h1M340 282.5h1M49 283.5h1M340 283.5h1M49 284.5h1M341 284.5h1M49 285.5h1M341 285.5h1M48 286.5h1M342 286.5h1M48 287.5h1M342 287.5h1M48 288.5h1M343 288.5h1M409 288.5h19M449 288.5h1M47 289.5h1M343 289.5h2M405 289.5h4M427 289.5h4M443 289.5h6M450 289.5h3M47 290.5h1M344 290.5h1M401 290.5h4M431 290.5h12M453 290.5h3M47 291.5h1M345 291.5h1M400 291.5h1M456 291.5h3M46 292.5h1M345 292.5h1M399 292.5h1M459 292.5h3M46 293.5h1M346 293.5h1M398 293.5h1M462 293.5h2M46 294.5h1M347 294.5h1M398 294.5h1M464 294.5h2M45 295.5h1M347 295.5h1M397 295.5h1M466 295.5h1M45 296.5h1M348 296.5h1M396 296.5h1M467 296.5h1M44 297.5h1M349 297.5h1M395 297.5h1M468 297.5h11M44 298.5h1M349 298.5h2M395 298.5h1M479 298.5h3M44 299.5h1M351 299.5h1M394 299.5h1M482 299.5h2M43 300.5h1M352 300.5h1M392 300.5h2M484 300.5h2M43 301.5h1M353 301.5h2M391 301.5h2M486 301.5h1M42 302.5h1M354 302.5h1M389 302.5h2M487 302.5h2M42 303.5h1M355 303.5h1M387 303.5h2M489 303.5h1M41 304.5h2M356 304.5h2M385 304.5h2M490 304.5h2M41 305.5h1M358 305.5h1M383 305.5h2M492 305.5h3M41 306.5h1M359 306.5h2M381 306.5h2M495 306.5h2M40 307.5h1M361 307.5h1M379 307.5h2M497 307.5h2M40 308.5h1M361 308.5h1M377 308.5h2M499 308.5h2M39 309.5h1M362 309.5h3M374 309.5h3M501 309.5h1M39 310.5h1M365 310.5h3M370 310.5h4M502 310.5h1M39 311.5h1M367 311.5h3M502 311.5h2M38 312.5h1M504 312.5h1M38 313.5h1M505 313.5h1M37 314.5h1M506 314.5h1M37 315.5h1M507 315.5h2M37 316.5h1M509 316.5h1M36 317.5h1M510 317.5h2M36 318.5h1M512 318.5h1M36 319.5h1M513 319.5h2M35 320.5h1M515 320.5h1M35 321.5h1M515 321.5h2M34 322.5h1M517 322.5h1M34 323.5h1M518 323.5h2M34 324.5h1M520 324.5h2M33 325.5h1M522 325.5h1M33 326.5h1M523 326.5h3M32 327.5h1M526 327.5h2M32 328.5h1M528 328.5h1M31 329.5h1M529 329.5h1M30 330.5h1M530 330.5h1M30 331.5h1M531 331.5h1M29 332.5h1M532 332.5h1M29 333.5h1M533 333.5h1M28 334.5h1M534 334.5h1M27 335.5h1M534 335.5h1M27 336.5h1M535 336.5h1M26 337.5h1M536 337.5h2M26 338.5h1M538 338.5h1M25 339.5h1M539 339.5h2M24 340.5h1M541 340.5h10M23 341.5h2M551 341.5h4M22 342.5h1M555 342.5h2M21 343.5h1M557 343.5h2M20 344.5h1M559 344.5h2M19 345.5h1M561 345.5h2M17 346.5h2M563 346.5h2M16 347.5h1M565 347.5h2M15 348.5h1M567 348.5h2M745 348.5h10M14 349.5h1M569 349.5h2M742 349.5h3M755 349.5h1M13 350.5h2M571 350.5h1M740 350.5h2M756 350.5h2M12 351.5h1M572 351.5h2M738 351.5h2M758 351.5h1M10 352.5h2M574 352.5h1M735 352.5h3M759 352.5h2M8 353.5h2M574 353.5h1M733 353.5h2M761 353.5h1M7 354.5h1M575 354.5h2M731 354.5h2M762 354.5h1M5 355.5h2M577 355.5h1M729 355.5h2M762 355.5h1M4 356.5h1M578 356.5h1M727 356.5h2M763 356.5h1M4 357.5h1M579 357.5h2M725 357.5h2M764 357.5h1M581 358.5h1M724 358.5h1M765 358.5h1M582 359.5h1M722 359.5h2M766 359.5h1M583 360.5h1M721 360.5h1M767 360.5h1M584 361.5h1M720 361.5h1M768 361.5h1M585 362.5h1M719 362.5h1M769 362.5h1M586 363.5h2M717 363.5h2M770 363.5h2M588 364.5h1M717 364.5h1M772 364.5h1M589 365.5h4M716 365.5h1M773 365.5h1M593 366.5h4M715 366.5h1M774 366.5h1M597 367.5h2M714 367.5h1M775 367.5h1M599 368.5h2M713 368.5h1M775 368.5h2M601 369.5h1M712 369.5h1M777 369.5h1M602 370.5h1M711 370.5h1M778 370.5h2M603 371.5h2M709 371.5h2M780 371.5h1M605 372.5h1M708 372.5h1M781 372.5h2M606 373.5h1M707 373.5h1M783 373.5h2M607 374.5h1M706 374.5h1M785 374.5h1M608 375.5h1M706 375.5h1M786 375.5h2M609 376.5h2M705 376.5h1M787 376.5h2M838 376.5h8M611 377.5h1M704 377.5h1M789 377.5h1M835 377.5h3M846 377.5h5M612 378.5h2M703 378.5h1M790 378.5h2M833 378.5h2M851 378.5h3M614 379.5h1M702 379.5h1M792 379.5h1M832 379.5h1M854 379.5h2M615 380.5h1M700 380.5h2M793 380.5h2M831 380.5h1M856 380.5h3M615 381.5h2M699 381.5h1M795 381.5h2M829 381.5h2M858 381.5h2M617 382.5h2M698 382.5h1M797 382.5h2M828 382.5h1M860 382.5h2M619 383.5h3M698 383.5h1M799 383.5h2M827 383.5h1M862 383.5h2M622 384.5h1M697 384.5h1M800 384.5h2M826 384.5h1M864 384.5h3M623 385.5h2M696 385.5h1M802 385.5h2M825 385.5h1M867 385.5h1M625 386.5h1M694 386.5h2M804 386.5h2M824 386.5h1M868 386.5h2M626 387.5h1M692 387.5h2M806 387.5h2M821 387.5h3M870 387.5h1M627 388.5h1M690 388.5h2M808 388.5h2M818 388.5h3M871 388.5h1M627 389.5h2M688 389.5h2M809 389.5h9M872 389.5h2M629 390.5h1M687 390.5h2M874 390.5h2M630 391.5h1M685 391.5h2M876 391.5h2M631 392.5h2M683 392.5h2M878 392.5h2M633 393.5h6M681 393.5h2M880 393.5h2M639 394.5h3M678 394.5h3M882 394.5h2M642 395.5h2M676 395.5h2M884 395.5h1M643 396.5h3M674 396.5h2M884 396.5h2M646 397.5h5M671 397.5h3M886 397.5h1M651 398.5h6M667 398.5h4M887 398.5h1M657 399.5h2M663 399.5h4M888 399.5h2M659 400.5h4M890 400.5h1M891 401.5h1M892 402.5h1M893 403.5h1M894 404.5h1M895 405.5h2M909 405.5h19M897 406.5h3M902 406.5h7M928 406.5h2M900 407.5h2M930 407.5h2M931 408.5h2M933 409.5h2M935 410.5h1M936 411.5h2M938 412.5h1M939 413.5h2M941 414.5h1M942 415.5h1M943 416.5h2M945 417.5h2M947 418.5h1M948 419.5h1M948 420.5h1M949 421.5h2M951 422.5h1M952 423.5h1M952 424.5h1M953 425.5h1M954 426.5h1M955 427.5h1M956 428.5h1M957 429.5h1M958 430.5h1M959 431.5h1M960 432.5h1M960 433.5h1M961 434.5h2M963 435.5h1M964 436.5h1M965 437.5h1M966 438.5h1M967 439.5h1M968 440.5h1M969 441.5h1M969 442.5h1M970 443.5h1M971 444.5h1M971 445.5h1M972 446.5h1M973 447.5h1M973 448.5h1M974 449.5h1M975 450.5h2M977 451.5h1M978 452.5h1M978 453.5h1M979 454.5h1M980 455.5h1M981 456.5h2M983 457.5h1M984 458.5h1M985 459.5h2M987 460.5h1M988 461.5h1M989 462.5h1M989 463.5h1M990 464.5h1M991 465.5h2M1029 465.5h8M993 466.5h1M1027 466.5h2M1037 466.5h5M994 467.5h1M1024 467.5h3M1042 467.5h12M995 468.5h1M1022 468.5h2M1054 468.5h3M996 469.5h2M1016 469.5h6M1057 469.5h2M998 470.5h1M1012 470.5h4M1059 470.5h3M999 471.5h2M1009 471.5h3M1062 471.5h2M1001 472.5h2M1004 472.5h5M1064 472.5h1M1165 472.5h16M1003 473.5h1M1064 473.5h2M1163 473.5h2M1181 473.5h3M1066 474.5h2M1161 474.5h2M1184 474.5h2M1068 475.5h6M1159 475.5h2M1186 475.5h2M1074 476.5h3M1158 476.5h2M1188 476.5h2M1076 477.5h2M1156 477.5h2M1190 477.5h2M1078 478.5h2M1152 478.5h4M1192 478.5h1M1080 479.5h1M1147 479.5h6M1193 479.5h2M1081 480.5h2M1144 480.5h3M1195 480.5h2M1083 481.5h4M1142 481.5h3M1197 481.5h6M1086 482.5h6M1140 482.5h2M1203 482.5h2M1092 483.5h12M1138 483.5h2M1205 483.5h1M1104 484.5h1M1136 484.5h2M1206 484.5h2M1105 485.5h2M1114 485.5h22M1208 485.5h2M1107 486.5h1M1111 486.5h3M1209 486.5h1M1108 487.5h3M1210 487.5h2M1212 488.5h1M1213 489.5h1M1214 490.5h2M1216 491.5h1M1217 492.5h1M1218 493.5h2M1220 494.5h1M1221 495.5h2M1223 496.5h1M1224 497.5h1M1225 498.5h1M1226 499.5h1M1228 499.5h6M1227 500.5h1M1234 500.5h3M1237 501.5h2M1238 502.5h6M1244 503.5h5M1249 504.5h9" fill="none" stroke="#ff0000" stroke-width="1"/>
<path d="M166 167.5h8M162 168.5h5M174 168.5h1M156 169.5h6M175 169.5h2M153 170.5h3M177 170.5h1M151 171.5h2M178 171.5h1M149 172.5h2M179 172.5h2M147 173.5h2M181 173.5h2M146 174.5h2M183 174.5h1M144 175.5h2M184 175.5h2M143 176.5h1M185 176.5h1M142 177.5h1M186 177.5h2M141 178.5h1M188 178.5h1M139 179.5h2M189 179.5h2M138 180.5h1M191 180.5h1M137 181.5h1M192 181.5h1M136 182.5h1M193 182.5h1M135 183.5h1M194 183.5h1M134 184.5h1M195 184.5h2M133 185.5h1M197 185.5h1M132 186.5h1M198 186.5h1M132 187.5h1M199 187.5h1M131 188.5h1M200 188.5h22M130 189.5h1M222 189.5h5M129 190.5h1M226 190.5h3M129 191.5h1M229 191.5h3M260 191.5h7M128 192.5h1M232 192.5h2M255 192.5h5M267 192.5h3M127 193.5h1M234 193.5h2M251 193.5h4M270 193.5h4M127 194.5h1M236 194.5h4M245 194.5h6M274 194.5h14M126 195.5h1M240 195.5h5M288 195.5h1M125 196.5h1M289 196.5h2M125 197.5h1M291 197.5h2M124 198.5h1M293 198.5h1M123 199.5h1M294 199.5h2M122 200.5h1M296 200.5h2M121 201.5h1M298 201.5h2M120 202.5h1M300 202.5h1M119 203.5h1M301 203.5h3M118 204.5h1M304 204.5h2M117 205.5h1M306 205.5h2M117 206.5h1M308 206.5h2M116 207.5h1M310 207.5h1M115 208.5h1M311 208.5h2M115 209.5h1M313 209.5h1M114 210.5h1M314 210.5h1M113 211.5h1M314 211.5h2M112 212.5h1M316 212.5h1M111 213.5h2M317 213.5h1M110 214.5h1M318 214.5h1M109 215.5h1M319 215.5h2M109 216.5h1M321 216.5h1M108 217.5h1M322 217.5h1M107 218.5h1M323 218.5h1M106 219.5h1M324 219.5h1M106 220.5h1M324 220.5h1M105 221.5h1M325 221.5h1M104 222.5h1M326 222.5h2M104 223.5h1M328 223.5h1M102 224.5h2M328 224.5h1M102 225.5h1M329 225.5h1M101 226.5h1M330 226.5h1M101 227.5h1M331 227.5h1M100 228.5h1M332 228.5h1M99 229.5h1M332 229.5h1M99 230.5h1M333 230.5h1M98 231.5h1M334 231.5h1M97 232.5h1M335 232.5h1M97 233.5h1M336 233.5h1M96 234.5h1M336 234.5h1M96 235.5h1M337 235.5h1M95 236.5h1M338 236.5h1M94 237.5h1M338 237.5h1M93 238.5h1M339 238.5h2M93 239.5h1M341 239.5h1M92 240.5h1M341 240.5h1M92 241.5h1M342 241.5h1M91 242.5h1M343 242.5h1M90 243.5h1M344 243.5h1M90 244.5h1M344 244.5h1M89 245.5h1M345 245.5h1M89 246.5h1M346 246.5h2M88 247.5h1M348 247.5h2M88 248.5h1M350 248.5h2M87 249.5h1M351 249.5h2M86 250.5h1M353 250.5h2M86 251.5h1M355 251.5h2M85 252.5h1M357 252.5h1M84 253.5h1M358 253.5h2M84 254.5h1M360 254.5h1M83 255.5h1M361 255.5h2M82 256.5h1M362 256.5h1M82 257.5h1M363 257.5h2M81 258.5h1M365 258.5h1M81 259.5h1M366 259.5h1M80 260.5h1M367 260.5h1M80 261.5h1M368 261.5h1M79 262.5h1M369 262.5h1M79 263.5h1M370 263.5h1M78 264.5h1M371 264.5h2M78 265.5h1M372 265.5h1M78 266.5h1M373 266.5h1M77 267.5h1M374 267.5h1M77 268.5h1M375 268.5h1M76 269.5h1M376 269.5h1M75 270.5h1M377 270.5h2M75 271.5h1M379 271.5h1M75 272.5h1M380 272.5h1M74 273.5h1M381 273.5h2M74 274.5h1M383 274.5h1M73 275.5h1M384 275.5h1M73 276.5h1M385 276.5h1M72 277.5h1M385 277.5h2M72 278.5h1M387 278.5h2M72 279.5h1M389 279.5h1M71 280.5h1M390 280.5h2M71 281.5h1M392 281.5h2M70 282.5h1M394 282.5h2M70 283.5h1M396 283.5h1M69 284.5h1M397 284.5h2M69 285.5h1M399 285.5h1M69 286.5h1M400 286.5h2M68 287.5h1M402 287.5h2M68 288.5h1M404 288.5h2M67 289.5h1M406 289.5h2M66 290.5h2M408 290.5h2M66 291.5h1M410 291.5h2M66 292.5h1M412 292.5h3M461 292.5h18M65 293.5h1M415 293.5h3M459 293.5h2M479 293.5h4M65 294.5h1M418 294.5h2M456 294.5h3M483 294.5h5M64 295.5h1M420 295.5h3M453 295.5h3M488 295.5h3M64 296.5h1M423 296.5h2M451 296.5h2M490 296.5h3M64 297.5h1M425 297.5h2M448 297.5h3M493 297.5h3M63 298.5h1M427 298.5h2M440 298.5h8M496 298.5h3M63 299.5h1M429 299.5h3M433 299.5h7M499 299.5h4M62 300.5h1M432 300.5h1M503 300.5h3M62 301.5h1M506 301.5h2M61 302.5h1M508 302.5h3M61 303.5h1M511 303.5h3M60 304.5h1M514 304.5h3M60 305.5h1M517 305.5h1M59 306.5h1M518 306.5h1M59 307.5h1M519 307.5h2M59 308.5h1M521 308.5h2M58 309.5h1M523 309.5h2M58 310.5h1M525 310.5h3M57 311.5h1M528 311.5h3M57 312.5h1M531 312.5h2M56 313.5h1M533 313.5h1M56 314.5h1M534 314.5h2M55 315.5h1M536 315.5h2M55 316.5h1M538 316.5h1M55 317.5h1M539 317.5h2M54 318.5h1M540 318.5h3M54 319.5h1M543 319.5h3M53 320.5h1M546 320.5h4M52 321.5h1M550 321.5h2M52 322.5h1M552 322.5h3M51 323.5h1M555 323.5h2M50 324.5h1M557 324.5h3M50 325.5h1M560 325.5h1M49 326.5h1M561 326.5h2M48 327.5h1M563 327.5h1M48 328.5h1M563 328.5h2M47 329.5h1M565 329.5h2M46 330.5h1M567 330.5h1M45 331.5h1M568 331.5h1M45 332.5h1M569 332.5h2M44 333.5h1M571 333.5h1M43 334.5h1M572 334.5h2M43 335.5h1M574 335.5h1M42 336.5h1M575 336.5h2M41 337.5h1M577 337.5h1M40 338.5h1M578 338.5h2M39 339.5h2M580 339.5h1M38 340.5h1M581 340.5h1M37 341.5h1M582 341.5h2M36 342.5h1M584 342.5h1M35 343.5h1M584 343.5h2M34 344.5h1M586 344.5h1M32 345.5h2M587 345.5h2M31 346.5h1M589 346.5h1M30 347.5h1M590 347.5h2M30 348.5h1M592 348.5h1M29 349.5h1M593 349.5h2M27 350.5h2M594 350.5h2M25 351.5h2M596 351.5h1M23 352.5h2M597 352.5h3M21 353.5h2M600 353.5h2M20 354.5h1M602 354.5h2M19 355.5h1M604 355.5h3M16 356.5h3M607 356.5h2M13 357.5h3M609 357.5h2M10 358.5h3M611 358.5h2M8 359.5h2M613 359.5h2M6 360.5h3M615 360.5h2M5 361.5h1M617 361.5h1M618 362.5h2M620 363.5h2M622 364.5h1M623 365.5h2M625 366.5h1M626 367.5h2M756 367.5h49M628 368.5h2M751 368.5h5M805 368.5h10M630 369.5h2M750 369.5h1M815 369.5h3M632 370.5h2M748 370.5h2M818 370.5h3M633 371.5h2M746 371.5h2M820 371.5h13M635 372.5h1M743 372.5h3M833 372.5h5M636 373.5h2M741 373.5h2M838 373.5h4M638 374.5h2M738 374.5h3M842 374.5h2M640 375.5h2M735 375.5h3M844 375.5h2M641 376.5h2M733 376.5h2M846 376.5h2M643 377.5h2M729 377.5h4M848 377.5h3M645 378.5h2M725 378.5h4M850 378.5h2M647 379.5h2M722 379.5h3M852 379.5h3M649 380.5h1M720 380.5h2M855 380.5h2M650 381.5h2M717 381.5h3M857 381.5h2M652 382.5h9M715 382.5h2M859 382.5h3M661 383.5h2M712 383.5h3M862 383.5h1M663 384.5h2M710 384.5h2M863 384.5h2M664 385.5h3M707 385.5h3M865 385.5h2M667 386.5h5M705 386.5h2M867 386.5h2M672 387.5h4M703 387.5h2M869 387.5h2M675 388.5h4M699 388.5h4M871 388.5h5M679 389.5h13M696 389.5h3M875 389.5h18M692 390.5h4M893 390.5h5M898 391.5h5M903 392.5h7M910 393.5h6M915 394.5h4M919 395.5h5M924 396.5h4M928 397.5h4M932 398.5h4M936 399.5h2M938 400.5h2M940 401.5h2M942 402.5h2M944 403.5h1M945 404.5h1M946 405.5h1M947 406.5h1M948 407.5h2M949 408.5h1M950 409.5h1M951 410.5h1M952 411.5h1M953 412.5h1M954 413.5h1M954 414.5h1M955 415.5h2M957 416.5h1M958 417.5h1M959 418.5h2M961 419.5h1M962 420.5h2M964 421.5h1M965 422.5h1M966 423.5h2M968 424.5h2M970 425.5h2M972 426.5h2M974 427.5h2M976 428.5h3M979 429.5h2M981 430.5h2M983 431.5h2M985 432.5h2M987 433.5h3M990 434.5h2M992 435.5h2M993 436.5h2M995 437.5h1M996 438.5h1M997 439.5h2M999 440.5h1M1000 441.5h2M1002 442.5h2M1004 443.5h1M1005 444.5h2M1007 445.5h2M1009 446.5h2M1011 447.5h2M1013 448.5h2M1015 449.5h3M1018 450.5h3M1021 451.5h2M1023 452.5h3M1026 453.5h2M1028 454.5h2M1030 455.5h3M1033 456.5h1M1034 457.5h2M1036 458.5h2M1038 459.5h2M1039 460.5h2M1041 461.5h2M1043 462.5h3M1046 463.5h2M1048 464.5h2M1050 465.5h2M1051 466.5h2M1053 467.5h3M1056 468.5h3M1059 469.5h3M1062 470.5h2M1064 471.5h2M1065 472.5h3M1068 473.5h13M1081 474.5h4M1085 475.5h19M1104 476.5h4M1108 477.5h17M1125 478.5h3M1128 479.5h4M1162 479.5h13M1132 480.5h7M1155 480.5h7M1175 480.5h18M1139 481.5h16M1193 481.5h2M1202 481.5h3M1195 482.5h7M1204 482.5h7M1211 483.5h4M1215 484.5h3M1218 485.5h4M1222 486.5h4M1226 487.5h14M1240 488.5h6M1246 489.5h3M1249 490.5h2M1251 491.5h4M1255 492.5h3" fill="none" stroke="#0000cd" stroke-width="1"/>
<rect x="5" y="491" width="1576" height="1" fill="#c0c0c0"/>
<rect x="1583" y="486" width="39" height="11" fill="#000000"/>
<text x="1588" y="495" font-size="10" fill="#ffffff" stroke="#ffffff" stroke-width="0.15" textLength="32" lengthAdjust="spacingAndGlyphs">1.26919</text>
<rect x="5" y="372" width="1578" height="2" fill="#ff0000"/>
<rect x="4" y="370" width="6" height="6" fill="#ff0000"/>
<rect x="6" y="372" width="2" height="2" fill="#ffffff"/>
<rect x="1575" y="370" width="6" height="6" fill="#ff0000"/>
<rect x="1577" y="372" width="2" height="2" fill="#ffffff"/>
<rect x="1583" y="367" width="39" height="11" fill="#ff0000"/>
<text x="1588" y="376" font-size="10" fill="#ffffff" stroke="#ffffff" stroke-width="0.15" textLength="32" lengthAdjust="spacingAndGlyphs">1.32258</text>
<rect x="5" y="413" width="1578" height="2" fill="#ff0000"/>
<rect x="4" y="411" width="6" height="6" fill="#ff0000"/>
<rect x="6" y="413" width="2" height="2" fill="#ffffff"/>
<rect x="1575" y="411" width="6" height="6" fill="#ff0000"/>
<rect x="1577" y="413" width="2" height="2" fill="#ffffff"/>
<rect x="1583" y="408" width="39" height="11" fill="#ff0000"/>
<text x="1588" y="417" font-size="10" fill="#ffffff" stroke="#ffffff" stroke-width="0.15" textLength="32" lengthAdjust="spacingAndGlyphs">1.30415</text>
<rect x="5" y="453" width="1578" height="2" fill="#00ff00"/>
<rect x="4" y="451" width="6" height="6" fill="#00ff00"/>
<rect x="6" y="453" width="2" height="2" fill="#ffffff"/>
<rect x="1575" y="451" width="6" height="6" fill="#00ff00"/>
<rect x="1577" y="453" width="2" height="2" fill="#ffffff"/>
<rect x="1583" y="448" width="39" height="11" fill="#00ff00"/>
<text x="1588" y="457" font-size="10" fill="#ffffff" stroke="#ffffff" stroke-width="0.15" textLength="32" lengthAdjust="spacingAndGlyphs">1.28616</text>
<rect x="5" y="500" width="1578" height="2" fill="#0000ff"/>
<rect x="4" y="498" width="6" height="6" fill="#0000ff"/>
<rect x="6" y="500" width="2" height="2" fill="#ffffff"/>
<rect x="1575" y="498" width="6" height="6" fill="#0000ff"/>
<rect x="1577" y="500" width="2" height="2" fill="#ffffff"/>
<rect x="1583" y="495" width="39" height="11" fill="#0000ff"/>
<text x="1588" y="504" font-size="10" fill="#ffffff" stroke="#ffffff" stroke-width="0.15" textLength="32" lengthAdjust="spacingAndGlyphs">1.26503</text>
<rect x="5" y="533" width="1578" height="2" fill="#0000ff"/>
<rect x="4" y="531" width="6" height="6" fill="#0000ff"/>
<rect x="6" y="533" width="2" height="2" fill="#ffffff"/>
<rect x="1575" y="531" width="6" height="6" fill="#0000ff"/>
<rect x="1577" y="533" width="2" height="2" fill="#ffffff"/>
<rect x="1583" y="528" width="39" height="11" fill="#0000ff"/>
<text x="1588" y="537" font-size="10" fill="#ffffff" stroke="#ffffff" stroke-width="0.15" textLength="32" lengthAdjust="spacingAndGlyphs">1.25019</text>
<text x="9" y="569" font-size="10" fill="#000000" stroke="#000000" stroke-width="0.15" textLength="68" lengthAdjust="spacingAndGlyphs">RSI(14) 52.1951</text>
<line x1="6" y1="586.5" x2="1581" y2="586.5" stroke="#c0c0c0" stroke-width="1" stroke-dasharray="3 3"/>
<line x1="6" y1="623.5" x2="1581" y2="623.5" stroke="#c0c0c0" stroke-width="1" stroke-dasharray="3 3"/>
<path d="M40 568.5h1M57 568.5h2M40 569.5h2M56 569.5h1M58 569.5h1M39 570.5h1M42 570.5h1M54 570.5h2M59 570.5h2M29 571.5h1M38 571.5h1M42 571.5h1M54 571.5h1M61 571.5h1M28 572.5h1M30 572.5h1M36 572.5h2M43 572.5h1M52 572.5h2M61 572.5h1M27 573.5h2M31 573.5h1M36 573.5h1M44 573.5h1M51 573.5h1M62 573.5h1M27 574.5h1M32 574.5h1M34 574.5h2M44 574.5h1M50 574.5h1M62 574.5h1M26 575.5h1M33 575.5h1M45 575.5h1M48 575.5h2M63 575.5h1M72 575.5h2M26 576.5h1M45 576.5h3M64 576.5h1M70 576.5h2M73 576.5h2M25 577.5h1M64 577.5h1M66 577.5h4M75 577.5h1M25 578.5h1M65 578.5h2M76 578.5h2M25 579.5h1M77 579.5h1M24 580.5h1M78 580.5h1M24 581.5h1M78 581.5h1M23 582.5h1M79 582.5h1M23 583.5h1M79 583.5h1M22 584.5h1M80 584.5h1M22 585.5h1M80 585.5h1M21 586.5h1M80 586.5h1M713 586.5h3M17 587.5h5M81 587.5h1M711 587.5h2M716 587.5h2M15 588.5h2M81 588.5h1M705 588.5h6M718 588.5h2M724 588.5h2M14 589.5h1M81 589.5h1M704 589.5h1M720 589.5h1M723 589.5h1M725 589.5h1M9 590.5h5M82 590.5h1M702 590.5h2M720 590.5h3M726 590.5h1M8 591.5h1M82 591.5h1M702 591.5h1M726 591.5h1M8 592.5h1M82 592.5h1M699 592.5h3M726 592.5h1M827 592.5h4M7 593.5h1M82 593.5h1M697 593.5h2M727 593.5h1M825 593.5h2M830 593.5h2M6 594.5h1M83 594.5h1M697 594.5h1M727 594.5h1M825 594.5h1M832 594.5h1M5 595.5h2M83 595.5h1M697 595.5h1M728 595.5h1M825 595.5h1M833 595.5h3M5 596.5h1M83 596.5h1M104 596.5h2M696 596.5h1M728 596.5h1M824 596.5h1M836 596.5h3M84 597.5h1M103 597.5h1M106 597.5h1M173 597.5h1M696 597.5h1M728 597.5h1M824 597.5h1M838 597.5h1M84 598.5h1M97 598.5h3M101 598.5h2M107 598.5h1M172 598.5h1M174 598.5h2M695 598.5h1M729 598.5h1M824 598.5h1M839 598.5h1M1144 598.5h6M1157 598.5h1M84 599.5h1M88 599.5h1M96 599.5h1M100 599.5h2M108 599.5h1M115 599.5h4M155 599.5h2M171 599.5h2M175 599.5h2M225 599.5h1M695 599.5h1M729 599.5h2M823 599.5h1M840 599.5h2M1012 599.5h2M1141 599.5h3M1150 599.5h1M1155 599.5h3M85 600.5h3M89 600.5h1M96 600.5h1M109 600.5h1M112 600.5h3M119 600.5h3M153 600.5h2M157 600.5h1M170 600.5h1M177 600.5h1M224 600.5h2M254 600.5h8M400 600.5h2M694 600.5h1M731 600.5h1M737 600.5h3M823 600.5h1M841 600.5h1M1011 600.5h1M1013 600.5h2M1131 600.5h3M1140 600.5h2M1151 600.5h1M1154 600.5h1M1158 600.5h2M85 601.5h1M90 601.5h1M95 601.5h1M110 601.5h2M122 601.5h1M152 601.5h1M158 601.5h1M170 601.5h1M178 601.5h1M209 601.5h2M224 601.5h1M226 601.5h1M249 601.5h5M261 601.5h1M398 601.5h2M402 601.5h1M408 601.5h2M694 601.5h1M731 601.5h1M735 601.5h2M740 601.5h2M823 601.5h1M841 601.5h1M1011 601.5h1M1015 601.5h1M1129 601.5h2M1134 601.5h2M1139 601.5h1M1152 601.5h1M1154 601.5h1M1159 601.5h1M91 602.5h1M95 602.5h1M122 602.5h1M152 602.5h1M159 602.5h1M168 602.5h2M179 602.5h1M185 602.5h5M208 602.5h1M210 602.5h3M215 602.5h3M223 602.5h1M226 602.5h1M248 602.5h1M262 602.5h1M397 602.5h1M403 602.5h2M406 602.5h2M409 602.5h2M676 602.5h2M685 602.5h2M693 602.5h1M732 602.5h1M734 602.5h1M742 602.5h1M817 602.5h1M823 602.5h1M842 602.5h1M1010 602.5h1M1015 602.5h1M1128 602.5h1M1136 602.5h1M1138 602.5h1M1153 602.5h1M1160 602.5h1M1237 602.5h1M91 603.5h1M94 603.5h1M123 603.5h1M151 603.5h1M160 603.5h1M166 603.5h2M180 603.5h1M184 603.5h1M190 603.5h2M208 603.5h1M213 603.5h2M218 603.5h1M222 603.5h1M227 603.5h1M247 603.5h1M262 603.5h1M396 603.5h1M405 603.5h1M411 603.5h1M653 603.5h1M667 603.5h4M676 603.5h1M678 603.5h1M684 603.5h1M687 603.5h1M692 603.5h2M733 603.5h1M743 603.5h2M781 603.5h1M816 603.5h1M818 603.5h1M822 603.5h1M842 603.5h1M882 603.5h1M1009 603.5h1M1016 603.5h1M1128 603.5h1M1137 603.5h1M1160 603.5h1M1236 603.5h1M1238 603.5h1M1256 603.5h1M92 604.5h1M94 604.5h1M123 604.5h1M129 604.5h1M151 604.5h1M161 604.5h6M180 604.5h1M182 604.5h2M192 604.5h2M208 604.5h1M219 604.5h4M227 604.5h1M241 604.5h3M245 604.5h2M263 604.5h1M281 604.5h2M395 604.5h1M412 604.5h1M461 604.5h1M652 604.5h1M654 604.5h1M663 604.5h4M671 604.5h2M674 604.5h2M679 604.5h2M683 604.5h2M688 604.5h4M744 604.5h1M748 604.5h6M781 604.5h2M816 604.5h1M818 604.5h1M822 604.5h1M842 604.5h1M881 604.5h1M883 604.5h2M1009 604.5h1M1017 604.5h1M1073 604.5h2M1120 604.5h2M1127 604.5h1M1161 604.5h3M1235 604.5h1M1239 604.5h1M1256 604.5h1M93 605.5h1M124 605.5h1M127 605.5h2M130 605.5h2M151 605.5h1M181 605.5h1M193 605.5h2M207 605.5h1M228 605.5h1M241 605.5h1M244 605.5h1M264 605.5h1M279 605.5h2M283 605.5h2M394 605.5h1M412 605.5h1M460 605.5h2M652 605.5h1M655 605.5h2M662 605.5h1M673 605.5h1M680 605.5h1M682 605.5h1M689 605.5h1M745 605.5h3M754 605.5h1M780 605.5h1M782 605.5h1M816 605.5h1M819 605.5h1M822 605.5h1M842 605.5h1M880 605.5h1M885 605.5h2M1008 605.5h1M1017 605.5h2M1028 605.5h2M1073 605.5h1M1075 605.5h2M1089 605.5h1M1097 605.5h2M1117 605.5h3M1122 605.5h2M1126 605.5h1M1164 605.5h4M1233 605.5h2M1240 605.5h1M1255 605.5h1M124 606.5h1M126 606.5h2M132 606.5h4M150 606.5h1M195 606.5h1M206 606.5h1M228 606.5h1M240 606.5h1M264 606.5h1M278 606.5h1M285 606.5h4M394 606.5h1M413 606.5h1M446 606.5h10M459 606.5h1M462 606.5h1M473 606.5h5M652 606.5h1M657 606.5h5M681 606.5h1M755 606.5h1M780 606.5h1M783 606.5h1M815 606.5h1M820 606.5h1M822 606.5h1M843 606.5h1M879 606.5h1M886 606.5h1M1008 606.5h1M1019 606.5h3M1026 606.5h2M1029 606.5h1M1072 606.5h1M1076 606.5h1M1089 606.5h2M1096 606.5h1M1099 606.5h3M1114 606.5h3M1123 606.5h1M1126 606.5h1M1168 606.5h2M1201 606.5h5M1233 606.5h1M1241 606.5h1M1255 606.5h1M125 607.5h1M135 607.5h10M150 607.5h1M196 607.5h2M206 607.5h1M229 607.5h1M239 607.5h1M265 607.5h1M278 607.5h1M288 607.5h2M393 607.5h1M414 607.5h2M437 607.5h1M445 607.5h1M456 607.5h3M462 607.5h1M472 607.5h1M478 607.5h1M651 607.5h1M755 607.5h1M779 607.5h1M784 607.5h1M815 607.5h1M820 607.5h2M843 607.5h1M878 607.5h1M887 607.5h1M909 607.5h5M1007 607.5h1M1022 607.5h4M1030 607.5h2M1072 607.5h1M1077 607.5h1M1088 607.5h1M1091 607.5h2M1094 607.5h2M1101 607.5h1M1113 607.5h1M1124 607.5h2M1170 607.5h2M1200 607.5h1M1206 607.5h1M1232 607.5h1M1242 607.5h2M1254 607.5h1M145 608.5h2M150 608.5h1M198 608.5h2M206 608.5h1M229 608.5h2M238 608.5h1M265 608.5h1M277 608.5h1M290 608.5h1M356 608.5h6M375 608.5h7M392 608.5h1M416 608.5h1M419 608.5h4M435 608.5h2M438 608.5h2M444 608.5h1M457 608.5h1M463 608.5h1M471 608.5h1M479 608.5h2M545 608.5h3M651 608.5h1M756 608.5h1M779 608.5h1M784 608.5h4M814 608.5h1M821 608.5h1M843 608.5h1M877 608.5h1M888 608.5h1M892 608.5h3M900 608.5h3M907 608.5h2M914 608.5h1M1007 608.5h1M1031 608.5h1M1072 608.5h1M1078 608.5h1M1088 608.5h1M1093 608.5h1M1102 608.5h1M1113 608.5h1M1125 608.5h1M1172 608.5h1M1199 608.5h1M1206 608.5h1M1232 608.5h1M1244 608.5h2M1247 608.5h4M1254 608.5h1M147 609.5h1M149 609.5h1M200 609.5h1M205 609.5h1M231 609.5h2M236 609.5h2M266 609.5h1M275 609.5h2M290 609.5h1M353 609.5h4M362 609.5h2M373 609.5h2M381 609.5h1M392 609.5h1M417 609.5h2M423 609.5h2M435 609.5h1M440 609.5h1M443 609.5h1M464 609.5h1M470 609.5h1M480 609.5h1M545 609.5h1M548 609.5h3M651 609.5h1M756 609.5h1M779 609.5h1M788 609.5h3M813 609.5h2M844 609.5h1M876 609.5h1M888 609.5h1M890 609.5h2M894 609.5h2M899 609.5h1M903 609.5h2M906 609.5h2M915 609.5h1M1006 609.5h1M1032 609.5h1M1071 609.5h1M1079 609.5h1M1088 609.5h1M1102 609.5h1M1112 609.5h1M1172 609.5h2M1198 609.5h1M1206 609.5h1M1232 609.5h1M1245 609.5h2M1251 609.5h3M148 610.5h2M201 610.5h3M205 610.5h1M232 610.5h4M267 610.5h1M274 610.5h1M291 610.5h1M351 610.5h2M364 610.5h1M370 610.5h3M382 610.5h2M391 610.5h1M424 610.5h8M434 610.5h1M440 610.5h1M442 610.5h1M464 610.5h1M468 610.5h2M481 610.5h1M517 610.5h1M545 610.5h1M551 610.5h2M650 610.5h1M757 610.5h1M778 610.5h1M791 610.5h2M813 610.5h1M844 610.5h1M875 610.5h1M889 610.5h2M896 610.5h3M905 610.5h1M916 610.5h1M1006 610.5h1M1033 610.5h1M1070 610.5h1M1080 610.5h1M1087 610.5h1M1103 610.5h1M1111 610.5h1M1174 610.5h2M1184 610.5h6M1198 610.5h1M1207 610.5h1M1232 610.5h1M204 611.5h2M268 611.5h1M272 611.5h2M292 611.5h1M349 611.5h3M365 611.5h5M384 611.5h1M390 611.5h1M432 611.5h2M441 611.5h1M465 611.5h1M467 611.5h1M482 611.5h1M516 611.5h1M518 611.5h1M544 611.5h1M553 611.5h1M650 611.5h1M758 611.5h1M778 611.5h1M793 611.5h2M809 611.5h4M844 611.5h1M848 611.5h2M874 611.5h1M916 611.5h1M1006 611.5h1M1034 611.5h1M1070 611.5h1M1081 611.5h1M1087 611.5h1M1103 611.5h1M1111 611.5h1M1176 611.5h1M1182 611.5h2M1190 611.5h1M1197 611.5h1M1207 611.5h1M1231 611.5h1M269 612.5h3M292 612.5h1M349 612.5h1M385 612.5h2M390 612.5h1M465 612.5h2M482 612.5h1M516 612.5h1M518 612.5h1M529 612.5h1M544 612.5h1M554 612.5h1M637 612.5h2M649 612.5h1M758 612.5h1M778 612.5h1M795 612.5h1M806 612.5h3M844 612.5h4M849 612.5h1M873 612.5h1M917 612.5h2M1005 612.5h1M1034 612.5h2M1070 612.5h1M1081 612.5h1M1086 612.5h1M1104 612.5h1M1110 612.5h1M1176 612.5h6M1191 612.5h1M1196 612.5h1M1207 612.5h1M1231 612.5h1M269 613.5h1M293 613.5h1M348 613.5h1M387 613.5h1M390 613.5h1M483 613.5h1M515 613.5h1M519 613.5h1M527 613.5h2M530 613.5h2M543 613.5h1M555 613.5h1M637 613.5h4M649 613.5h1M759 613.5h1M777 613.5h1M796 613.5h2M800 613.5h6M845 613.5h1M850 613.5h1M872 613.5h1M919 613.5h2M923 613.5h3M1004 613.5h2M1036 613.5h1M1069 613.5h1M1082 613.5h2M1086 613.5h1M1104 613.5h1M1110 613.5h1M1191 613.5h1M1195 613.5h1M1208 613.5h1M1231 613.5h1M293 614.5h2M305 614.5h3M348 614.5h1M388 614.5h2M483 614.5h2M515 614.5h1M520 614.5h1M526 614.5h2M531 614.5h1M543 614.5h1M556 614.5h1M601 614.5h2M636 614.5h1M641 614.5h1M648 614.5h1M759 614.5h1M774 614.5h3M798 614.5h2M851 614.5h1M871 614.5h1M920 614.5h3M926 614.5h1M1002 614.5h2M1037 614.5h2M1049 614.5h5M1061 614.5h1M1069 614.5h1M1083 614.5h1M1085 614.5h1M1105 614.5h1M1109 614.5h1M1192 614.5h1M1194 614.5h1M1208 614.5h1M1212 614.5h4M1231 614.5h1M295 615.5h2M302 615.5h3M308 615.5h3M348 615.5h1M484 615.5h1M497 615.5h5M515 615.5h1M521 615.5h5M532 615.5h2M543 615.5h1M557 615.5h2M600 615.5h1M603 615.5h2M636 615.5h1M641 615.5h1M647 615.5h1M760 615.5h1M773 615.5h2M851 615.5h1M870 615.5h1M927 615.5h2M932 615.5h2M1001 615.5h1M1039 615.5h4M1047 615.5h2M1054 615.5h2M1060 615.5h1M1062 615.5h1M1067 615.5h2M1084 615.5h2M1105 615.5h5M1193 615.5h1M1208 615.5h1M1210 615.5h2M1216 615.5h4M1231 615.5h1M297 616.5h5M310 616.5h1M347 616.5h1M485 616.5h1M496 616.5h1M502 616.5h2M514 616.5h1M533 616.5h1M542 616.5h1M559 616.5h1M570 616.5h5M598 616.5h2M604 616.5h2M635 616.5h1M642 616.5h1M647 616.5h1M760 616.5h1M771 616.5h2M852 616.5h1M868 616.5h2M929 616.5h3M934 616.5h3M1000 616.5h1M1043 616.5h1M1046 616.5h2M1056 616.5h1M1058 616.5h2M1063 616.5h2M1066 616.5h2M1085 616.5h1M1209 616.5h2M1220 616.5h2M1230 616.5h1M300 617.5h1M311 617.5h1M347 617.5h1M486 617.5h1M496 617.5h1M504 617.5h1M514 617.5h1M534 617.5h1M542 617.5h1M559 617.5h2M568 617.5h2M575 617.5h1M593 617.5h3M597 617.5h1M606 617.5h1M635 617.5h1M643 617.5h1M646 617.5h1M761 617.5h7M770 617.5h1M853 617.5h10M867 617.5h1M937 617.5h7M1000 617.5h1M1044 617.5h2M1057 617.5h1M1065 617.5h1M1222 617.5h2M1230 617.5h1M311 618.5h1M346 618.5h1M487 618.5h2M495 618.5h1M505 618.5h3M513 618.5h1M534 618.5h1M542 618.5h1M561 618.5h2M567 618.5h1M576 618.5h2M592 618.5h1M595 618.5h2M607 618.5h2M635 618.5h1M644 618.5h2M761 618.5h1M768 618.5h2M862 618.5h1M867 618.5h1M944 618.5h2M999 618.5h1M1224 618.5h1M1230 618.5h1M312 619.5h1M346 619.5h1M489 619.5h2M494 619.5h2M508 619.5h6M535 619.5h1M541 619.5h1M563 619.5h2M566 619.5h1M578 619.5h3M590 619.5h2M609 619.5h1M634 619.5h1M645 619.5h1M863 619.5h2M866 619.5h1M946 619.5h1M992 619.5h3M999 619.5h1M1225 619.5h2M1230 619.5h1M312 620.5h1M346 620.5h1M490 620.5h1M494 620.5h1M536 620.5h1M539 620.5h2M565 620.5h1M581 620.5h2M587 620.5h3M609 620.5h2M634 620.5h1M865 620.5h1M946 620.5h1M977 620.5h9M991 620.5h1M995 620.5h1M998 620.5h1M1226 620.5h1M1230 620.5h1M313 621.5h1M345 621.5h1M491 621.5h1M493 621.5h1M536 621.5h1M539 621.5h1M583 621.5h5M611 621.5h2M634 621.5h1M947 621.5h1M976 621.5h1M986 621.5h2M991 621.5h1M996 621.5h1M998 621.5h1M1227 621.5h3M313 622.5h2M345 622.5h1M492 622.5h2M537 622.5h2M613 622.5h7M633 622.5h1M948 622.5h1M976 622.5h1M987 622.5h2M990 622.5h1M996 622.5h2M1229 622.5h1M315 623.5h2M341 623.5h3M345 623.5h1M619 623.5h2M633 623.5h1M949 623.5h2M968 623.5h2M975 623.5h1M989 623.5h1M316 624.5h2M324 624.5h2M340 624.5h2M344 624.5h1M621 624.5h2M631 624.5h2M950 624.5h1M960 624.5h2M966 624.5h2M969 624.5h2M975 624.5h1M318 625.5h2M321 625.5h3M326 625.5h2M339 625.5h1M623 625.5h1M631 625.5h1M951 625.5h1M959 625.5h1M962 625.5h4M971 625.5h1M974 625.5h1M320 626.5h1M328 626.5h2M331 626.5h5M338 626.5h1M624 626.5h1M628 626.5h3M952 626.5h1M958 626.5h1M971 626.5h1M974 626.5h1M330 627.5h1M336 627.5h2M625 627.5h3M953 627.5h3M957 627.5h1M972 627.5h2M956 628.5h1M973 628.5h1" fill="none" stroke="#1e90ff" stroke-width="1"/>
<text x="1585" y="567" font-size="10" fill="#000000" stroke="#000000" stroke-width="0.15" textLength="14" lengthAdjust="spacingAndGlyphs">100</text>
<text x="1585" y="590" font-size="10" fill="#000000" stroke="#000000" stroke-width="0.15" textLength="9" lengthAdjust="spacingAndGlyphs">70</text>
<text x="1585" y="627" font-size="10" fill="#000000" stroke="#000000" stroke-width="0.15" textLength="9" lengthAdjust="spacingAndGlyphs">30</text>
<text x="1585" y="649" font-size="10" fill="#000000" stroke="#000000" stroke-width="0.15" textLength="4" lengthAdjust="spacingAndGlyphs">0</text>
<rect x="1582" y="558" width="1" height="1" fill="#000000"/>
<rect x="1582" y="651" width="1" height="1" fill="#000000"/>
<g id="macd">
<rect x="5" y="709" width="1" height="8" fill="#c0c0c0"/>
<rect x="9" y="708" width="1" height="9" fill="#c0c0c0"/>
<rect x="13" y="708" width="1" height="9" fill="#c0c0c0"/>
<rect x="17" y="707" width="1" height="10" fill="#c0c0c0"/>
<rect x="21" y="707" width="1" height="10" fill="#c0c0c0"/>
<rect x="25" y="706" width="1" height="11" fill="#c0c0c0"/>
<rect x="29" y="701" width="1" height="16" fill="#c0c0c0"/>
<rect x="33" y="698" width="1" height="19" fill="#c0c0c0"/>
<rect x="37" y="694" width="1" height="23" fill="#c0c0c0"/>
<rect x="41" y="689" width="1" height="28" fill="#c0c0c0"/>
<rect x="45" y="687" width="1" height="30" fill="#c0c0c0"/>
<rect x="49" y="684" width="1" height="33" fill="#c0c0c0"/>
<rect x="53" y="680" width="1" height="37" fill="#c0c0c0"/>
<rect x="57" y="671" width="1" height="46" fill="#c0c0c0"/>
<rect x="61" y="667" width="1" height="50" fill="#c0c0c0"/>
<rect x="65" y="665" width="1" height="52" fill="#c0c0c0"/>
<rect x="69" y="663" width="1" height="54" fill="#c0c0c0"/>
<rect x="73" y="661" width="1" height="56" fill="#c0c0c0"/>
<rect x="77" y="661" width="1" height="56" fill="#c0c0c0"/>
<rect x="81" y="663" width="1" height="54" fill="#c0c0c0"/>
<rect x="85" y="670" width="1" height="47" fill="#c0c0c0"/>
<rect x="89" y="675" width="1" height="42" fill="#c0c0c0"/>
<rect x="93" y="682" width="1" height="35" fill="#c0c0c0"/>
<rect x="97" y="684" width="1" height="33" fill="#c0c0c0"/>
<rect x="101" y="687" width="1" height="30" fill="#c0c0c0"/>
<rect x="105" y="688" width="1" height="29" fill="#c0c0c0"/>
<rect x="109" y="691" width="1" height="26" fill="#c0c0c0"/>
<rect x="113" y="693" width="1" height="24" fill="#c0c0c0"/>
<rect x="117" y="694" width="1" height="23" fill="#c0c0c0"/>
<rect x="121" y="696" width="1" height="21" fill="#c0c0c0"/>
<rect x="125" y="700" width="1" height="17" fill="#c0c0c0"/>
<rect x="129" y="703" width="1" height="14" fill="#c0c0c0"/>
<rect x="133" y="706" width="1" height="11" fill="#c0c0c0"/>
<rect x="137" y="708" width="1" height="9" fill="#c0c0c0"/>
<rect x="141" y="710" width="1" height="7" fill="#c0c0c0"/>
<rect x="145" y="712" width="1" height="5" fill="#c0c0c0"/>
<rect x="149" y="714" width="1" height="3" fill="#c0c0c0"/>
<rect x="153" y="713" width="1" height="4" fill="#c0c0c0"/>
<rect x="157" y="712" width="1" height="5" fill="#c0c0c0"/>
<rect x="161" y="712" width="1" height="5" fill="#c0c0c0"/>
<rect x="165" y="713" width="1" height="4" fill="#c0c0c0"/>
<rect x="169" y="712" width="1" height="5" fill="#c0c0c0"/>
<rect x="173" y="710" width="1" height="7" fill="#c0c0c0"/>
<rect x="177" y="710" width="1" height="7" fill="#c0c0c0"/>
<rect x="181" y="711" width="1" height="6" fill="#c0c0c0"/>
<rect x="185" y="711" width="1" height="6" fill="#c0c0c0"/>
<rect x="189" y="711" width="1" height="6" fill="#c0c0c0"/>
<rect x="193" y="712" width="1" height="5" fill="#c0c0c0"/>
<rect x="197" y="714" width="1" height="3" fill="#c0c0c0"/>
<rect x="201" y="716" width="1" height="1" fill="#c0c0c0"/>
<rect x="205" y="716" width="1" height="3" fill="#c0c0c0"/>
<rect x="209" y="716" width="1" height="1" fill="#c0c0c0"/>
<rect x="213" y="716" width="1" height="1" fill="#c0c0c0"/>
<rect x="217" y="715" width="1" height="2" fill="#c0c0c0"/>
<rect x="221" y="715" width="1" height="2" fill="#c0c0c0"/>
<rect x="225" y="714" width="1" height="3" fill="#c0c0c0"/>
<rect x="229" y="715" width="1" height="2" fill="#c0c0c0"/>
<rect x="233" y="716" width="1" height="2" fill="#c0c0c0"/>
<rect x="237" y="716" width="1" height="4" fill="#c0c0c0"/>
<rect x="241" y="716" width="1" height="3" fill="#c0c0c0"/>
<rect x="245" y="716" width="1" height="4" fill="#c0c0c0"/>
<rect x="249" y="716" width="1" height="2" fill="#c0c0c0"/>
<rect x="253" y="716" width="1" height="1" fill="#c0c0c0"/>
<rect x="257" y="715" width="1" height="2" fill="#c0c0c0"/>
<rect x="261" y="714" width="1" height="3" fill="#c0c0c0"/>
<rect x="265" y="716" width="1" height="1" fill="#c0c0c0"/>
<rect x="269" y="716" width="1" height="3" fill="#c0c0c0"/>
<rect x="273" y="716" width="1" height="4" fill="#c0c0c0"/>
<rect x="277" y="716" width="1" height="5" fill="#c0c0c0"/>
<rect x="281" y="716" width="1" height="4" fill="#c0c0c0"/>
<rect x="285" y="716" width="1" height="4" fill="#c0c0c0"/>
<rect x="289" y="716" width="1" height="4" fill="#c0c0c0"/>
<rect x="293" y="716" width="1" height="6" fill="#c0c0c0"/>
<rect x="297" y="716" width="1" height="8" fill="#c0c0c0"/>
<rect x="301" y="716" width="1" height="10" fill="#c0c0c0"/>
<rect x="305" y="716" width="1" height="11" fill="#c0c0c0"/>
<rect x="309" y="716" width="1" height="12" fill="#c0c0c0"/>
<rect x="313" y="716" width="1" height="15" fill="#c0c0c0"/>
<rect x="317" y="716" width="1" height="19" fill="#c0c0c0"/>
<rect x="321" y="716" width="1" height="22" fill="#c0c0c0"/>
<rect x="325" y="716" width="1" height="23" fill="#c0c0c0"/>
<rect x="329" y="716" width="1" height="26" fill="#c0c0c0"/>
<rect x="333" y="716" width="1" height="27" fill="#c0c0c0"/>
<rect x="337" y="716" width="1" height="29" fill="#c0c0c0"/>
<rect x="341" y="716" width="1" height="29" fill="#c0c0c0"/>
<rect x="345" y="716" width="1" height="30" fill="#c0c0c0"/>
<rect x="349" y="716" width="1" height="27" fill="#c0c0c0"/>
<rect x="353" y="716" width="1" height="25" fill="#c0c0c0"/>
<rect x="357" y="716" width="1" height="22" fill="#c0c0c0"/>
<rect x="361" y="716" width="1" height="19" fill="#c0c0c0"/>
<rect x="365" y="716" width="1" height="18" fill="#c0c0c0"/>
<rect x="369" y="716" width="1" height="17" fill="#c0c0c0"/>
<rect x="373" y="716" width="1" height="15" fill="#c0c0c0"/>
<rect x="377" y="716" width="1" height="14" fill="#c0c0c0"/>
<rect x="381" y="716" width="1" height="12" fill="#c0c0c0"/>
<rect x="385" y="716" width="1" height="12" fill="#c0c0c0"/>
<rect x="389" y="716" width="1" height="12" fill="#c0c0c0"/>
<rect x="393" y="716" width="1" height="11" fill="#c0c0c0"/>
<rect x="397" y="716" width="1" height="9" fill="#c0c0c0"/>
<rect x="401" y="716" width="1" height="7" fill="#c0c0c0"/>
<rect x="405" y="716" width="1" height="5" fill="#c0c0c0"/>
<rect x="409" y="716" width="1" height="4" fill="#c0c0c0"/>
<rect x="413" y="716" width="1" height="4" fill="#c0c0c0"/>
<rect x="417" y="716" width="1" height="4" fill="#c0c0c0"/>
<rect x="421" y="716" width="1" height="4" fill="#c0c0c0"/>
<rect x="425" y="716" width="1" height="5" fill="#c0c0c0"/>
<rect x="429" y="716" width="1" height="5" fill="#c0c0c0"/>
<rect x="433" y="716" width="1" height="5" fill="#c0c0c0"/>
<rect x="437" y="716" width="1" height="5" fill="#c0c0c0"/>
<rect x="441" y="716" width="1" height="6" fill="#c0c0c0"/>
<rect x="445" y="716" width="1" height="5" fill="#c0c0c0"/>
<rect x="449" y="716" width="1" height="5" fill="#c0c0c0"/>
<rect x="453" y="716" width="1" height="5" fill="#c0c0c0"/>
<rect x="457" y="716" width="1" height="4" fill="#c0c0c0"/>
<rect x="461" y="716" width="1" height="4" fill="#c0c0c0"/>
<rect x="465" y="716" width="1" height="5" fill="#c0c0c0"/>
<rect x="469" y="716" width="1" height="5" fill="#c0c0c0"/>
<rect x="473" y="716" width="1" height="4" fill="#c0c0c0"/>
<rect x="477" y="716" width="1" height="4" fill="#c0c0c0"/>
<rect x="481" y="716" width="1" height="4" fill="#c0c0c0"/>
<rect x="485" y="716" width="1" height="6" fill="#c0c0c0"/>
<rect x="489" y="716" width="1" height="8" fill="#c0c0c0"/>
<rect x="493" y="716" width="1" height="10" fill="#c0c0c0"/>
<rect x="497" y="716" width="1" height="10" fill="#c0c0c0"/>
<rect x="501" y="716" width="1" height="10" fill="#c0c0c0"/>
<rect x="505" y="716" width="1" height="11" fill="#c0c0c0"/>
<rect x="509" y="716" width="1" height="12" fill="#c0c0c0"/>
<rect x="513" y="716" width="1" height="12" fill="#c0c0c0"/>
<rect x="517" y="716" width="1" height="11" fill="#c0c0c0"/>
<rect x="521" y="716" width="1" height="11" fill="#c0c0c0"/>
<rect x="525" y="716" width="1" height="11" fill="#c0c0c0"/>
<rect x="529" y="716" width="1" height="11" fill="#c0c0c0"/>
<rect x="533" y="716" width="1" height="11" fill="#c0c0c0"/>
<rect x="537" y="716" width="1" height="12" fill="#c0c0c0"/>
<rect x="541" y="716" width="1" height="13" fill="#c0c0c0"/>
<rect x="545" y="716" width="1" height="12" fill="#c0c0c0"/>
<rect x="549" y="716" width="1" height="11" fill="#c0c0c0"/>
<rect x="553" y="716" width="1" height="10" fill="#c0c0c0"/>
<rect x="557" y="716" width="1" height="11" fill="#c0c0c0"/>
<rect x="561" y="716" width="1" height="12" fill="#c0c0c0"/>
<rect x="565" y="716" width="1" height="13" fill="#c0c0c0"/>
<rect x="569" y="716" width="1" height="13" fill="#c0c0c0"/>
<rect x="573" y="716" width="1" height="13" fill="#c0c0c0"/>
<rect x="577" y="716" width="1" height="13" fill="#c0c0c0"/>
<rect x="581" y="716" width="1" height="14" fill="#c0c0c0"/>
<rect x="585" y="716" width="1" height="15" fill="#c0c0c0"/>
<rect x="589" y="716" width="1" height="15" fill="#c0c0c0"/>
<rect x="593" y="716" width="1" height="14" fill="#c0c0c0"/>
<rect x="597" y="716" width="1" height="14" fill="#c0c0c0"/>
<rect x="601" y="716" width="1" height="13" fill="#c0c0c0"/>
<rect x="605" y="716" width="1" height="13" fill="#c0c0c0"/>
<rect x="609" y="716" width="1" height="13" fill="#c0c0c0"/>
<rect x="613" y="716" width="1" height="14" fill="#c0c0c0"/>
<rect x="617" y="716" width="1" height="14" fill="#c0c0c0"/>
<rect x="621" y="716" width="1" height="14" fill="#c0c0c0"/>
<rect x="625" y="716" width="1" height="15" fill="#c0c0c0"/>
<rect x="629" y="716" width="1" height="16" fill="#c0c0c0"/>
<rect x="633" y="716" width="1" height="16" fill="#c0c0c0"/>
<rect x="637" y="716" width="1" height="14" fill="#c0c0c0"/>
<rect x="641" y="716" width="1" height="14" fill="#c0c0c0"/>
<rect x="645" y="716" width="1" height="14" fill="#c0c0c0"/>
<rect x="649" y="716" width="1" height="13" fill="#c0c0c0"/>
<rect x="653" y="716" width="1" height="11" fill="#c0c0c0"/>
<rect x="657" y="716" width="1" height="10" fill="#c0c0c0"/>
<rect x="661" y="716" width="1" height="8" fill="#c0c0c0"/>
<rect x="665" y="716" width="1" height="7" fill="#c0c0c0"/>
<rect x="669" y="716" width="1" height="6" fill="#c0c0c0"/>
<rect x="673" y="716" width="1" height="5" fill="#c0c0c0"/>
<rect x="677" y="716" width="1" height="4" fill="#c0c0c0"/>
<rect x="681" y="716" width="1" height="4" fill="#c0c0c0"/>
<rect x="685" y="716" width="1" height="3" fill="#c0c0c0"/>
<rect x="689" y="716" width="1" height="3" fill="#c0c0c0"/>
<rect x="693" y="716" width="1" height="2" fill="#c0c0c0"/>
<rect x="697" y="715" width="1" height="2" fill="#c0c0c0"/>
<rect x="701" y="714" width="1" height="3" fill="#c0c0c0"/>
<rect x="705" y="711" width="1" height="6" fill="#c0c0c0"/>
<rect x="709" y="710" width="1" height="7" fill="#c0c0c0"/>
<rect x="713" y="708" width="1" height="9" fill="#c0c0c0"/>
<rect x="717" y="707" width="1" height="10" fill="#c0c0c0"/>
<rect x="721" y="706" width="1" height="11" fill="#c0c0c0"/>
<rect x="725" y="706" width="1" height="11" fill="#c0c0c0"/>
<rect x="729" y="706" width="1" height="11" fill="#c0c0c0"/>
<rect x="733" y="708" width="1" height="9" fill="#c0c0c0"/>
<rect x="737" y="708" width="1" height="9" fill="#c0c0c0"/>
<rect x="741" y="709" width="1" height="8" fill="#c0c0c0"/>
<rect x="745" y="710" width="1" height="7" fill="#c0c0c0"/>
<rect x="749" y="711" width="1" height="6" fill="#c0c0c0"/>
<rect x="753" y="712" width="1" height="5" fill="#c0c0c0"/>
<rect x="757" y="713" width="1" height="4" fill="#c0c0c0"/>
<rect x="761" y="716" width="1" height="1" fill="#c0c0c0"/>
<rect x="765" y="716" width="1" height="3" fill="#c0c0c0"/>
<rect x="769" y="716" width="1" height="5" fill="#c0c0c0"/>
<rect x="773" y="716" width="1" height="5" fill="#c0c0c0"/>
<rect x="777" y="716" width="1" height="6" fill="#c0c0c0"/>
<rect x="781" y="716" width="1" height="5" fill="#c0c0c0"/>
<rect x="785" y="716" width="1" height="5" fill="#c0c0c0"/>
<rect x="789" y="716" width="1" height="5" fill="#c0c0c0"/>
<rect x="793" y="716" width="1" height="5" fill="#c0c0c0"/>
<rect x="797" y="716" width="1" height="6" fill="#c0c0c0"/>
<rect x="801" y="716" width="1" height="6" fill="#c0c0c0"/>
<rect x="805" y="716" width="1" height="7" fill="#c0c0c0"/>
<rect x="809" y="716" width="1" height="6" fill="#c0c0c0"/>
<rect x="813" y="716" width="1" height="6" fill="#c0c0c0"/>
<rect x="817" y="716" width="1" height="5" fill="#c0c0c0"/>
<rect x="821" y="716" width="1" height="5" fill="#c0c0c0"/>
<rect x="825" y="716" width="1" height="3" fill="#c0c0c0"/>
<rect x="829" y="715" width="1" height="2" fill="#c0c0c0"/>
<rect x="833" y="713" width="1" height="4" fill="#c0c0c0"/>
<rect x="837" y="712" width="1" height="5" fill="#c0c0c0"/>
<rect x="841" y="712" width="1" height="5" fill="#c0c0c0"/>
<rect x="845" y="715" width="1" height="2" fill="#c0c0c0"/>
<rect x="849" y="716" width="1" height="1" fill="#c0c0c0"/>
<rect x="853" y="716" width="1" height="4" fill="#c0c0c0"/>
<rect x="857" y="716" width="1" height="6" fill="#c0c0c0"/>
<rect x="861" y="716" width="1" height="8" fill="#c0c0c0"/>
<rect x="865" y="716" width="1" height="10" fill="#c0c0c0"/>
<rect x="869" y="716" width="1" height="10" fill="#c0c0c0"/>
<rect x="873" y="716" width="1" height="10" fill="#c0c0c0"/>
<rect x="877" y="716" width="1" height="9" fill="#c0c0c0"/>
<rect x="881" y="716" width="1" height="8" fill="#c0c0c0"/>
<rect x="885" y="716" width="1" height="7" fill="#c0c0c0"/>
<rect x="889" y="716" width="1" height="7" fill="#c0c0c0"/>
<rect x="893" y="716" width="1" height="7" fill="#c0c0c0"/>
<rect x="897" y="716" width="1" height="7" fill="#c0c0c0"/>
<rect x="901" y="716" width="1" height="6" fill="#c0c0c0"/>
<rect x="905" y="716" width="1" height="6" fill="#c0c0c0"/>
<rect x="909" y="716" width="1" height="6" fill="#c0c0c0"/>
<rect x="913" y="716" width="1" height="6" fill="#c0c0c0"/>
<rect x="917" y="716" width="1" height="6" fill="#c0c0c0"/>
<rect x="921" y="716" width="1" height="7" fill="#c0c0c0"/>
<rect x="925" y="716" width="1" height="7" fill="#c0c0c0"/>
<rect x="929" y="716" width="1" height="8" fill="#c0c0c0"/>
<rect x="933" y="716" width="1" height="8" fill="#c0c0c0"/>
<rect x="937" y="716" width="1" height="9" fill="#c0c0c0"/>
<rect x="941" y="716" width="1" height="9" fill="#c0c0c0"/>
<rect x="945" y="716" width="1" height="10" fill="#c0c0c0"/>
<rect x="949" y="716" width="1" height="11" fill="#c0c0c0"/>
<rect x="953" y="716" width="1" height="13" fill="#c0c0c0"/>
<rect x="957" y="716" width="1" height="15" fill="#c0c0c0"/>
<rect x="961" y="716" width="1" height="16" fill="#c0c0c0"/>
<rect x="965" y="716" width="1" height="16" fill="#c0c0c0"/>
<rect x="969" y="716" width="1" height="16" fill="#c0c0c0"/>
<rect x="973" y="716" width="1" height="18" fill="#c0c0c0"/>
<rect x="977" y="716" width="1" height="18" fill="#c0c0c0"/>
<rect x="981" y="716" width="1" height="17" fill="#c0c0c0"/>
<rect x="985" y="716" width="1" height="17" fill="#c0c0c0"/>
<rect x="989" y="716" width="1" height="17" fill="#c0c0c0"/>
<rect x="993" y="716" width="1" height="17" fill="#c0c0c0"/>
<rect x="997" y="716" width="1" height="17" fill="#c0c0c0"/>
<rect x="1001" y="716" width="1" height="16" fill="#c0c0c0"/>
<rect x="1005" y="716" width="1" height="14" fill="#c0c0c0"/>
<rect x="1009" y="716" width="1" height="12" fill="#c0c0c0"/>
<rect x="1013" y="716" width="1" height="9" fill="#c0c0c0"/>
<rect x="1017" y="716" width="1" height="8" fill="#c0c0c0"/>
<rect x="1021" y="716" width="1" height="7" fill="#c0c0c0"/>
<rect x="1025" y="716" width="1" height="7" fill="#c0c0c0"/>
<rect x="1029" y="716" width="1" height="6" fill="#c0c0c0"/>
<rect x="1033" y="716" width="1" height="6" fill="#c0c0c0"/>
<rect x="1037" y="716" width="1" height="7" fill="#c0c0c0"/>
<rect x="1041" y="716" width="1" height="8" fill="#c0c0c0"/>
<rect x="1045" y="716" width="1" height="8" fill="#c0c0c0"/>
<rect x="1049" y="716" width="1" height="9" fill="#c0c0c0"/>
<rect x="1053" y="716" width="1" height="9" fill="#c0c0c0"/>
<rect x="1057" y="716" width="1" height="9" fill="#c0c0c0"/>
<rect x="1061" y="716" width="1" height="9" fill="#c0c0c0"/>
<rect x="1065" y="716" width="1" height="10" fill="#c0c0c0"/>
<rect x="1069" y="716" width="1" height="10" fill="#c0c0c0"/>
<rect x="1073" y="716" width="1" height="8" fill="#c0c0c0"/>
<rect x="1077" y="716" width="1" height="7" fill="#c0c0c0"/>
<rect x="1081" y="716" width="1" height="7" fill="#c0c0c0"/>
<rect x="1085" y="716" width="1" height="8" fill="#c0c0c0"/>
<rect x="1089" y="716" width="1" height="7" fill="#c0c0c0"/>
<rect x="1093" y="716" width="1" height="7" fill="#c0c0c0"/>
<rect x="1097" y="716" width="1" height="6" fill="#c0c0c0"/>
<rect x="1101" y="716" width="1" height="6" fill="#c0c0c0"/>
<rect x="1105" y="716" width="1" height="7" fill="#c0c0c0"/>
<rect x="1109" y="716" width="1" height="8" fill="#c0c0c0"/>
<rect x="1113" y="716" width="1" height="7" fill="#c0c0c0"/>
<rect x="1117" y="716" width="1" height="7" fill="#c0c0c0"/>
<rect x="1121" y="716" width="1" height="6" fill="#c0c0c0"/>
<rect x="1125" y="716" width="1" height="5" fill="#c0c0c0"/>
<rect x="1129" y="716" width="1" height="4" fill="#c0c0c0"/>
<rect x="1133" y="716" width="1" height="3" fill="#c0c0c0"/>
<rect x="1137" y="716" width="1" height="2" fill="#c0c0c0"/>
<rect x="1141" y="716" width="1" height="1" fill="#c0c0c0"/>
<rect x="1145" y="715" width="1" height="2" fill="#c0c0c0"/>
<rect x="1149" y="714" width="1" height="3" fill="#c0c0c0"/>
<rect x="1153" y="714" width="1" height="3" fill="#c0c0c0"/>
<rect x="1157" y="713" width="1" height="4" fill="#c0c0c0"/>
<rect x="1161" y="714" width="1" height="3" fill="#c0c0c0"/>
<rect x="1165" y="714" width="1" height="3" fill="#c0c0c0"/>
<rect x="1169" y="715" width="1" height="2" fill="#c0c0c0"/>
<rect x="1173" y="716" width="1" height="1" fill="#c0c0c0"/>
<rect x="1177" y="716" width="1" height="2" fill="#c0c0c0"/>
<rect x="1181" y="716" width="1" height="3" fill="#c0c0c0"/>
<rect x="1185" y="716" width="1" height="3" fill="#c0c0c0"/>
<rect x="1189" y="716" width="1" height="4" fill="#c0c0c0"/>
<rect x="1193" y="716" width="1" height="5" fill="#c0c0c0"/>
<rect x="1197" y="716" width="1" height="5" fill="#c0c0c0"/>
<rect x="1201" y="716" width="1" height="5" fill="#c0c0c0"/>
<rect x="1205" y="716" width="1" height="4" fill="#c0c0c0"/>
<rect x="1209" y="716" width="1" height="6" fill="#c0c0c0"/>
<rect x="1213" y="716" width="1" height="6" fill="#c0c0c0"/>
<rect x="1217" y="716" width="1" height="7" fill="#c0c0c0"/>
<rect x="1221" y="716" width="1" height="8" fill="#c0c0c0"/>
<rect x="1225" y="716" width="1" height="9" fill="#c0c0c0"/>
<rect x="1229" y="716" width="1" height="10" fill="#c0c0c0"/>
<rect x="1233" y="716" width="1" height="9" fill="#c0c0c0"/>
<rect x="1237" y="716" width="1" height="7" fill="#c0c0c0"/>
<rect x="1241" y="716" width="1" height="7" fill="#c0c0c0"/>
<rect x="1245" y="716" width="1" height="7" fill="#c0c0c0"/>
<rect x="1249" y="716" width="1" height="6" fill="#c0c0c0"/>
<rect x="1253" y="716" width="1" height="6" fill="#c0c0c0"/>
<rect x="1257" y="716" width="1" height="5" fill="#c0c0c0"/>
</g>
<path d="M90 666.5h1M84 667.5h3M91 667.5h2M80 669.5h1M96 669.5h2M78 670.5h2M98 670.5h1M102 672.5h1M74 673.5h1M103 673.5h1M73 674.5h1M104 674.5h1M72 675.5h1M108 677.5h1M109 678.5h1M68 679.5h1M110 679.5h1M67 680.5h1M66 681.5h1M114 682.5h1M115 683.5h1M116 684.5h1M62 685.5h1M60 686.5h2M120 687.5h1M121 688.5h2M56 691.5h1M126 691.5h1M55 692.5h1M127 692.5h2M54 693.5h1M132 695.5h2M50 696.5h1M134 696.5h1M48 697.5h2M138 698.5h1M139 699.5h2M44 700.5h1M42 701.5h2M144 702.5h2M146 703.5h1M36 704.5h3M150 705.5h1M31 706.5h2M151 706.5h2M30 707.5h1M24 708.5h3M156 708.5h1M733 708.5h2M738 708.5h3M744 708.5h3M750 708.5h3M12 709.5h3M18 709.5h3M157 709.5h2M732 709.5h1M756 709.5h2M6 710.5h3M162 710.5h1M726 710.5h3M758 710.5h1M163 711.5h2M722 711.5h1M762 711.5h3M168 712.5h3M174 712.5h3M180 712.5h3M186 712.5h3M192 712.5h3M198 712.5h3M204 712.5h1M720 712.5h2M205 713.5h2M210 713.5h1M716 713.5h1M768 713.5h3M211 714.5h2M216 714.5h3M714 714.5h2M222 715.5h3M228 715.5h3M710 715.5h1M774 715.5h3M1164 715.5h3M1170 715.5h3M1176 715.5h3M1182 715.5h3M234 716.5h3M240 716.5h3M708 716.5h2M846 716.5h3M852 716.5h3M858 716.5h3M1158 716.5h3M1188 716.5h3M246 717.5h3M252 717.5h3M258 717.5h3M264 717.5h3M270 717.5h3M276 717.5h3M282 717.5h3M703 717.5h2M780 717.5h3M840 717.5h3M864 717.5h2M1152 717.5h3M1194 717.5h3M288 718.5h3M702 718.5h1M786 718.5h3M836 718.5h1M866 718.5h1M1148 718.5h1M1200 718.5h3M294 719.5h3M480 719.5h3M696 719.5h3M792 719.5h2M834 719.5h2M870 719.5h2M1146 719.5h2M1206 719.5h3M1212 719.5h2M300 720.5h2M428 720.5h1M432 720.5h3M438 720.5h3M444 720.5h3M450 720.5h3M456 720.5h3M462 720.5h3M468 720.5h3M474 720.5h3M486 720.5h3M492 720.5h1M690 720.5h3M794 720.5h1M798 720.5h3M828 720.5h3M872 720.5h1M1140 720.5h3M1214 720.5h1M1218 720.5h3M302 721.5h1M422 721.5h1M426 721.5h2M493 721.5h2M498 721.5h2M685 721.5h2M804 721.5h3M810 721.5h3M816 721.5h3M822 721.5h3M876 721.5h2M914 721.5h1M918 721.5h3M924 721.5h3M1128 721.5h3M1134 721.5h3M1224 721.5h3M306 722.5h3M420 722.5h2M500 722.5h1M504 722.5h2M684 722.5h1M878 722.5h1M882 722.5h1M906 722.5h3M912 722.5h2M930 722.5h3M936 722.5h3M942 722.5h1M1044 722.5h3M1050 722.5h3M1104 722.5h3M1110 722.5h3M1116 722.5h3M1122 722.5h3M1230 722.5h3M1236 722.5h3M1255 722.5h2M312 723.5h2M414 723.5h3M506 723.5h1M678 723.5h3M883 723.5h2M888 723.5h3M894 723.5h3M900 723.5h3M943 723.5h2M948 723.5h2M1038 723.5h3M1056 723.5h3M1062 723.5h3M1092 723.5h3M1098 723.5h3M1242 723.5h3M1248 723.5h3M1254 723.5h1M314 724.5h1M410 724.5h1M510 724.5h3M674 724.5h1M950 724.5h1M954 724.5h1M1034 724.5h1M1068 724.5h3M1074 724.5h3M1080 724.5h3M1086 724.5h3M318 725.5h1M408 725.5h2M516 725.5h3M672 725.5h2M955 725.5h2M1032 725.5h2M319 726.5h2M403 726.5h2M522 726.5h3M528 726.5h3M534 726.5h3M540 726.5h3M546 726.5h3M552 726.5h3M558 726.5h3M564 726.5h1M667 726.5h2M960 726.5h3M1027 726.5h2M402 727.5h1M565 727.5h2M570 727.5h3M576 727.5h3M582 727.5h2M666 727.5h1M966 727.5h2M1026 727.5h1M397 728.5h2M584 728.5h1M588 728.5h3M660 728.5h3M968 728.5h1M1020 728.5h3M324 729.5h2M396 729.5h1M594 729.5h3M600 729.5h3M606 729.5h3M612 729.5h3M618 729.5h3M624 729.5h3M630 729.5h3M636 729.5h3M642 729.5h3M648 729.5h3M654 729.5h3M972 729.5h3M1016 729.5h1M326 730.5h1M391 730.5h2M978 730.5h3M1014 730.5h2M390 731.5h1M984 731.5h3M1008 731.5h3M330 732.5h2M385 732.5h2M990 732.5h3M996 732.5h3M1002 732.5h3M332 733.5h1M384 733.5h1M380 734.5h1M336 735.5h1M378 735.5h2M337 736.5h2M373 737.5h2M342 738.5h2M372 738.5h1M344 739.5h1M368 739.5h1M348 740.5h1M366 740.5h2M349 741.5h2M354 741.5h3M360 741.5h3" fill="none" stroke="#ff0000" stroke-width="1"/>
<text x="9" y="667" font-size="10" fill="#000000" stroke="#000000" stroke-width="0.15" textLength="154" lengthAdjust="spacingAndGlyphs">MACD(12,26,9) -0.002287 -0.003463</text>
<text x="1586" y="665" font-size="10" fill="#000000" stroke="#000000" stroke-width="0.15" textLength="39" lengthAdjust="spacingAndGlyphs">0.032972</text>
<text x="1586" y="720" font-size="10" fill="#000000" stroke="#000000" stroke-width="0.15" textLength="17" lengthAdjust="spacingAndGlyphs">0.00</text>
<text x="1585" y="747" font-size="10" fill="#000000" stroke="#000000" stroke-width="0.15" textLength="41" lengthAdjust="spacingAndGlyphs">-0.018154</text>
<rect x="1582" y="716" width="2" height="1" fill="#000000"/>
<rect x="1582" y="656" width="1" height="1" fill="#000000"/>
<rect x="1582" y="749" width="1" height="1" fill="#000000"/>
<rect x="5" y="751" width="1" height="3" fill="#000000"/>
<text x="4" y="763" font-size="10" fill="#000000" stroke="#000000" stroke-width="0.15" textLength="47" lengthAdjust="spacingAndGlyphs">3 Mar 2020</text>
<rect x="69" y="751" width="1" height="3" fill="#000000"/>
<text x="68" y="763" font-size="10" fill="#000000" stroke="#000000" stroke-width="0.15" textLength="52" lengthAdjust="spacingAndGlyphs">21 Mar 2020</text>
<rect x="133" y="751" width="1" height="3" fill="#000000"/>
<text x="132" y="763" font-size="10" fill="#000000" stroke="#000000" stroke-width="0.15" textLength="46" lengthAdjust="spacingAndGlyphs">9 Apr 2020</text>
<rect x="197" y="751" width="1" height="3" fill="#000000"/>
<text x="196" y="763" font-size="10" fill="#000000" stroke="#000000" stroke-width="0.15" textLength="51" lengthAdjust="spacingAndGlyphs">28 Apr 2020</text>
<rect x="261" y="751" width="1" height="3" fill="#000000"/>
<text x="260" y="763" font-size="10" fill="#000000" stroke="#000000" stroke-width="0.15" textLength="53" lengthAdjust="spacingAndGlyphs">16 May 2020</text>
<rect x="325" y="751" width="1" height="3" fill="#000000"/>
<text x="324" y="763" font-size="10" fill="#000000" stroke="#000000" stroke-width="0.15" textLength="46" lengthAdjust="spacingAndGlyphs">4 Jun 2020</text>
<rect x="389" y="751" width="1" height="3" fill="#000000"/>
<text x="388" y="763" font-size="10" fill="#000000" stroke="#000000" stroke-width="0.15" textLength="51" lengthAdjust="spacingAndGlyphs">23 Jun 2020</text>
<rect x="453" y="751" width="1" height="3" fill="#000000"/>
<text x="452" y="763" font-size="10" fill="#000000" stroke="#000000" stroke-width="0.15" textLength="47" lengthAdjust="spacingAndGlyphs">11 Jul 2020</text>
<rect x="517" y="751" width="1" height="3" fill="#000000"/>
<text x="516" y="763" font-size="10" fill="#000000" stroke="#000000" stroke-width="0.15" textLength="47" lengthAdjust="spacingAndGlyphs">30 Jul 2020</text>
<rect x="581" y="751" width="1" height="3" fill="#000000"/>
<text x="580" y="763" font-size="10" fill="#000000" stroke="#000000" stroke-width="0.15" textLength="53" lengthAdjust="spacingAndGlyphs">18 Aug 2020</text>
<rect x="645" y="751" width="1" height="3" fill="#000000"/>
<text x="644" y="763" font-size="10" fill="#000000" stroke="#000000" stroke-width="0.15" textLength="47" lengthAdjust="spacingAndGlyphs">5 Sep 2020</text>
<rect x="709" y="751" width="1" height="3" fill="#000000"/>
<text x="708" y="763" font-size="10" fill="#000000" stroke="#000000" stroke-width="0.15" textLength="52" lengthAdjust="spacingAndGlyphs">24 Sep 2020</text>
<rect x="773" y="751" width="1" height="3" fill="#000000"/>
<text x="772" y="763" font-size="10" fill="#000000" stroke="#000000" stroke-width="0.15" textLength="50" lengthAdjust="spacingAndGlyphs">13 Oct 2020</text>
<rect x="837" y="751" width="1" height="3" fill="#000000"/>
<text x="836" y="763" font-size="10" fill="#000000" stroke="#000000" stroke-width="0.15" textLength="50" lengthAdjust="spacingAndGlyphs">31 Oct 2020</text>
<rect x="901" y="751" width="1" height="3" fill="#000000"/>
<text x="900" y="763" font-size="10" fill="#000000" stroke="#000000" stroke-width="0.15" textLength="52" lengthAdjust="spacingAndGlyphs">19 Nov 2020</text>
<rect x="965" y="751" width="1" height="3" fill="#000000"/>
<text x="964" y="763" font-size="10" fill="#000000" stroke="#000000" stroke-width="0.15" textLength="47" lengthAdjust="spacingAndGlyphs">8 Dec 2020</text>
<rect x="1029" y="751" width="1" height="3" fill="#000000"/>
<text x="1028" y="763" font-size="10" fill="#000000" stroke="#000000" stroke-width="0.15" textLength="52" lengthAdjust="spacingAndGlyphs">28 Dec 2020</text>
<rect x="1093" y="751" width="1" height="3" fill="#000000"/>
<text x="1092" y="763" font-size="10" fill="#000000" stroke="#000000" stroke-width="0.15" textLength="50" lengthAdjust="spacingAndGlyphs">16 Jan 2021</text>
<rect x="1157" y="751" width="1" height="3" fill="#000000"/>
<text x="1156" y="763" font-size="10" fill="#000000" stroke="#000000" stroke-width="0.15" textLength="46" lengthAdjust="spacingAndGlyphs">4 Feb 2021</text>
<rect x="1221" y="751" width="1" height="3" fill="#000000"/>
<text x="1220" y="763" font-size="10" fill="#000000" stroke="#000000" stroke-width="0.15" textLength="51" lengthAdjust="spacingAndGlyphs">23 Feb 2021</text>
<rect x="0" y="771" width="1622" height="1" fill="#e3e3e3"/>
<rect x="0" y="773" width="1622" height="1" fill="#000000"/>
<rect x="0" y="774" width="1622" height="1" fill="#ffffff"/>
<rect x="0" y="775" width="1622" height="18" fill="#f0f0f0"/>
<rect x="0" y="775" width="1" height="18" fill="#a0a0a0"/>
<rect x="1" y="775" width="1" height="18" fill="#696969"/>
<rect x="314" y="774" width="104" height="18" fill="#ffffff"/>
<rect x="313" y="774" width="1" height="17" fill="#ffffff"/>
<rect x="314" y="773" width="1" height="19" fill="#000000"/>
<rect x="417" y="773" width="1" height="19" fill="#000000"/>
<rect x="314" y="791" width="104" height="1" fill="#000000"/>
<rect x="315" y="773" width="102" height="1" fill="#ffffff"/>
<text x="18.4" y="788" font-size="12.5" fill="#5c5c5c" stroke="#5c5c5c" stroke-width="0" textLength="79.7" lengthAdjust="spacingAndGlyphs">EURUSD,Daily</text>
<text x="120.2" y="788" font-size="12.5" fill="#5c5c5c" stroke="#5c5c5c" stroke-width="0" textLength="79.6" lengthAdjust="spacingAndGlyphs">USDCHF,Daily</text>
<text x="221.1" y="788" font-size="12.5" fill="#5c5c5c" stroke="#5c5c5c" stroke-width="0" textLength="82.3" lengthAdjust="spacingAndGlyphs">AUDUSD,Daily</text>
<text x="428.4" y="788" font-size="12.5" fill="#5c5c5c" stroke="#5c5c5c" stroke-width="0" textLength="83.0" lengthAdjust="spacingAndGlyphs">USDCNH,Daily</text>
<text x="534" y="788" font-size="12.5" fill="#5c5c5c" stroke="#5c5c5c" stroke-width="0" textLength="80.6" lengthAdjust="spacingAndGlyphs">EURUSD,Daily</text>
<text x="638" y="788" font-size="12.5" fill="#5c5c5c" stroke="#5c5c5c" stroke-width="0" textLength="68.2" lengthAdjust="spacingAndGlyphs">GBPUSD,H4</text>
<text x="729.2" y="788" font-size="12.5" fill="#5c5c5c" stroke="#5c5c5c" stroke-width="0" textLength="68.9" lengthAdjust="spacingAndGlyphs">XAUUSD,H1</text>
<text x="821.4" y="788" font-size="12.5" fill="#5c5c5c" stroke="#5c5c5c" stroke-width="0" textLength="49.7" lengthAdjust="spacingAndGlyphs">HK50,H1</text>
<text x="893.3" y="788" font-size="12.5" fill="#5c5c5c" stroke="#5c5c5c" stroke-width="0" textLength="57.1" lengthAdjust="spacingAndGlyphs">UK100,H1</text>
<text x="973" y="788" font-size="12.5" fill="#5c5c5c" stroke="#5c5c5c" stroke-width="0" textLength="56.9" lengthAdjust="spacingAndGlyphs">UK100,H1</text>
<text x="1053.2" y="788" font-size="12.5" fill="#5c5c5c" stroke="#5c5c5c" stroke-width="0" textLength="56.9" lengthAdjust="spacingAndGlyphs">GER30,H1</text>
<text x="1132" y="788" font-size="12.5" fill="#5c5c5c" stroke="#5c5c5c" stroke-width="0" textLength="55.1" lengthAdjust="spacingAndGlyphs">FRA40,H1</text>
<text x="1208.3" y="788" font-size="12.5" fill="#5c5c5c" stroke="#5c5c5c" stroke-width="0" textLength="63.0" lengthAdjust="spacingAndGlyphs">USOil,Daily</text>
<text x="1292" y="788" font-size="12.5" fill="#5c5c5c" stroke="#5c5c5c" stroke-width="0" textLength="63.1" lengthAdjust="spacingAndGlyphs">USDJPY,H1</text>
<text x="1377" y="788" font-size="12.5" fill="#5c5c5c" stroke="#5c5c5c" stroke-width="0" textLength="58.4" lengthAdjust="spacingAndGlyphs">DJ30,Daily</text>
<text x="1456" y="788" font-size="12.5" fill="#5c5c5c" stroke="#5c5c5c" stroke-width="0" textLength="78.4" lengthAdjust="spacingAndGlyphs">CHINA300,H1</text>
<text x="1556.4" y="788" font-size="12.5" fill="#5c5c5c" stroke="#5c5c5c" stroke-width="0" textLength="34.0" lengthAdjust="spacingAndGlyphs">USOil,</text>
<text x="325.5" y="788" font-size="12.5" fill="#000000" stroke="#000000" stroke-width="0.1" textLength="80.5" lengthAdjust="spacingAndGlyphs">USDCAD,Daily</text>
<rect x="110" y="776" width="1" height="14" fill="#696969"/>
<rect x="210" y="776" width="1" height="14" fill="#696969"/>
<rect x="522" y="776" width="1" height="14" fill="#696969"/>
<rect x="626" y="776" width="1" height="14" fill="#696969"/>
<rect x="718" y="776" width="1" height="14" fill="#696969"/>
<rect x="810" y="776" width="1" height="14" fill="#696969"/>
<rect x="882" y="776" width="1" height="14" fill="#696969"/>
<rect x="962" y="776" width="1" height="14" fill="#696969"/>
<rect x="1042" y="776" width="1" height="14" fill="#696969"/>
<rect x="1122" y="776" width="1" height="14" fill="#696969"/>
<rect x="1199" y="776" width="1" height="14" fill="#696969"/>
<rect x="1282" y="776" width="1" height="14" fill="#696969"/>
<rect x="1367" y="776" width="1" height="14" fill="#696969"/>
<rect x="1446" y="776" width="1" height="14" fill="#696969"/>
<rect x="1546" y="776" width="1" height="14" fill="#696969"/>
<path d="M1600.5 779 L1597.3 782 L1600.5 785 Z" fill="#a0a0a0" shape-rendering="geometricPrecision"/>
<path d="M1615 778.7 L1618.8 782.2 L1615 785.7 Z" fill="#000" shape-rendering="geometricPrecision"/>
</svg>
</body></html>
